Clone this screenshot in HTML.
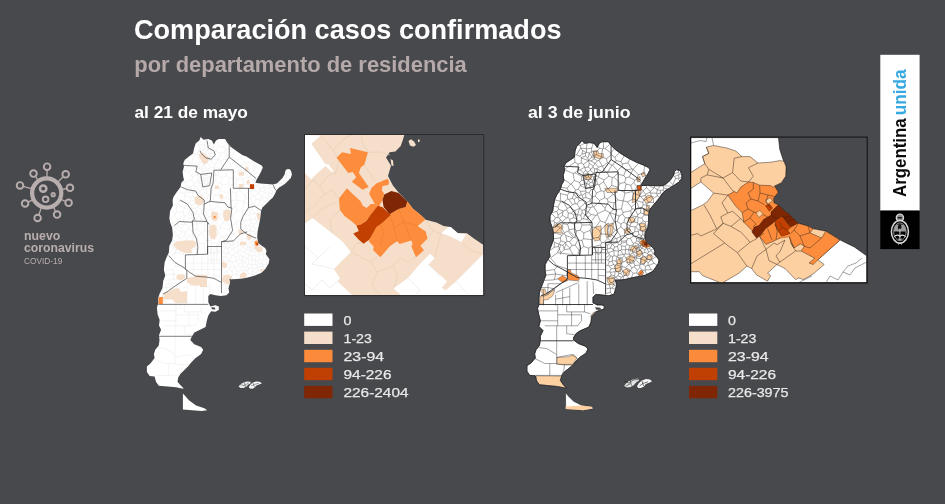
<!DOCTYPE html>
<html lang="es"><head><meta charset="utf-8"><title>Comparación casos confirmados</title>
<style>
html,body{margin:0;padding:0;background:#48494d;}
body{width:945px;height:504px;overflow:hidden;font-family:"Liberation Sans",sans-serif;}
svg{display:block}
text{font-family:"Liberation Sans",sans-serif;}
.lg{font-size:12.9px;fill:#e9e9e9;stroke:#e9e9e9;stroke-width:0.25px}
</style></head><body>
<svg width="945" height="504" viewBox="0 0 945 504">
<rect width="945" height="504" fill="#48494d"/>
<text x="134" y="39.2" font-size="27.5" font-weight="bold" fill="#ffffff" textLength="427.5" lengthAdjust="spacingAndGlyphs">Comparación casos confirmados</text>
<text x="134.3" y="71.8" font-size="21.5" font-weight="bold" fill="#b5a9a9" textLength="332.5" lengthAdjust="spacingAndGlyphs">por departamento de residencia</text>
<text x="134.4" y="118" font-size="16.5" font-weight="bold" fill="#ffffff" textLength="113.5" lengthAdjust="spacingAndGlyphs">al 21 de mayo</text>
<text x="528" y="118" font-size="16.5" font-weight="bold" fill="#ffffff" textLength="102.5" lengthAdjust="spacingAndGlyphs">al 3 de junio</text>
<g id="map1">
<clipPath id="c1"><polygon points="200.7,136.9 203.5,139.7 208.3,139.0 211.8,140.4 213.9,144.6 216.0,140.4 218.8,139.0 225.0,139.0 227.1,142.5 230.6,146.7 236.1,150.8 242.2,155.0 246.4,156.4 251.9,159.9 257.5,163.3 261.7,165.4 262.8,167.5 261.0,171.7 258.9,175.8 256.8,179.3 255.4,182.8 260.3,183.5 267.2,183.9 272.8,184.4 276.9,183.5 279.7,180.7 282.5,177.9 284.6,174.4 285.3,171.0 286.7,169.3 289.4,168.9 291.1,171.0 291.9,174.4 290.8,177.9 288.1,180.7 285.3,183.5 282.5,185.6 279.0,187.6 276.3,190.4 274.9,193.9 272.8,197.4 270.0,200.0 265.8,204.2 262.4,207.6 261.0,211.1 260.3,218.1 258.9,225.0 257.5,231.9 257.2,237.5 258.2,243.0 261.7,245.8 265.1,247.9 266.5,250.7 265.8,254.2 267.5,256.5 269.4,259.2 268.8,263.3 265.3,268.9 261.1,273.0 254.2,275.8 245.8,277.9 237.5,278.9 231.2,279.3 229.2,278.6 229.9,282.8 228.5,288.3 229.2,292.5 226.4,295.3 220.8,296.0 215.3,295.3 210.4,293.9 208.3,296.0 208.3,302.2 210.4,306.4 215.3,305.3 218.8,306.4 218.8,309.9 215.3,311.7 211.1,311.2 208.3,315.4 206.9,320.3 205.6,326.9 200.0,329.7 194.4,332.5 191.7,336.7 190.3,340.0 194.2,344.2 201.1,346.9 203.2,349.7 201.1,353.9 195.6,358.0 191.4,362.2 187.9,366.4 184.4,369.9 180.3,374.0 178.2,377.5 177.5,381.7 180.3,385.1 183.8,388.6 181.7,388.6 176.1,387.2 167.8,386.5 158.8,385.8 156.0,381.7 154.6,376.4 149.7,376.1 146.9,372.0 146.9,366.4 150.4,363.6 154.6,358.0 153.9,353.9 155.3,349.7 158.8,345.6 159.5,340.0 159.0,335.3 161.1,329.7 159.0,325.6 159.7,320.0 157.6,314.4 156.9,307.5 158.3,303.3 158.3,297.8 159.7,293.6 162.5,288.1 163.2,281.1 165.3,275.6 163.9,270.0 164.6,262.5 166.7,256.9 168.8,252.8 169.4,245.8 172.2,240.3 172.9,234.7 172.2,227.8 170.1,222.2 169.4,218.1 170.1,211.1 172.9,205.6 172.6,200.0 173.6,196.7 176.4,192.5 180.6,186.9 181.3,182.8 184.0,180.0 183.3,177.2 182.6,171.7 184.0,166.8 183.3,163.3 184.7,159.9 188.9,156.4 193.0,153.6 194.2,148.0 195.8,143.2 199.3,140.4"/></clipPath>
<polygon points="200.7,136.9 203.5,139.7 208.3,139.0 211.8,140.4 213.9,144.6 216.0,140.4 218.8,139.0 225.0,139.0 227.1,142.5 230.6,146.7 236.1,150.8 242.2,155.0 246.4,156.4 251.9,159.9 257.5,163.3 261.7,165.4 262.8,167.5 261.0,171.7 258.9,175.8 256.8,179.3 255.4,182.8 260.3,183.5 267.2,183.9 272.8,184.4 276.9,183.5 279.7,180.7 282.5,177.9 284.6,174.4 285.3,171.0 286.7,169.3 289.4,168.9 291.1,171.0 291.9,174.4 290.8,177.9 288.1,180.7 285.3,183.5 282.5,185.6 279.0,187.6 276.3,190.4 274.9,193.9 272.8,197.4 270.0,200.0 265.8,204.2 262.4,207.6 261.0,211.1 260.3,218.1 258.9,225.0 257.5,231.9 257.2,237.5 258.2,243.0 261.7,245.8 265.1,247.9 266.5,250.7 265.8,254.2 267.5,256.5 269.4,259.2 268.8,263.3 265.3,268.9 261.1,273.0 254.2,275.8 245.8,277.9 237.5,278.9 231.2,279.3 229.2,278.6 229.9,282.8 228.5,288.3 229.2,292.5 226.4,295.3 220.8,296.0 215.3,295.3 210.4,293.9 208.3,296.0 208.3,302.2 210.4,306.4 215.3,305.3 218.8,306.4 218.8,309.9 215.3,311.7 211.1,311.2 208.3,315.4 206.9,320.3 205.6,326.9 200.0,329.7 194.4,332.5 191.7,336.7 190.3,340.0 194.2,344.2 201.1,346.9 203.2,349.7 201.1,353.9 195.6,358.0 191.4,362.2 187.9,366.4 184.4,369.9 180.3,374.0 178.2,377.5 177.5,381.7 180.3,385.1 183.8,388.6 181.7,388.6 176.1,387.2 167.8,386.5 158.8,385.8 156.0,381.7 154.6,376.4 149.7,376.1 146.9,372.0 146.9,366.4 150.4,363.6 154.6,358.0 153.9,353.9 155.3,349.7 158.8,345.6 159.5,340.0 159.0,335.3 161.1,329.7 159.0,325.6 159.7,320.0 157.6,314.4 156.9,307.5 158.3,303.3 158.3,297.8 159.7,293.6 162.5,288.1 163.2,281.1 165.3,275.6 163.9,270.0 164.6,262.5 166.7,256.9 168.8,252.8 169.4,245.8 172.2,240.3 172.9,234.7 172.2,227.8 170.1,222.2 169.4,218.1 170.1,211.1 172.9,205.6 172.6,200.0 173.6,196.7 176.4,192.5 180.6,186.9 181.3,182.8 184.0,180.0 183.3,177.2 182.6,171.7 184.0,166.8 183.3,163.3 184.7,159.9 188.9,156.4 193.0,153.6 194.2,148.0 195.8,143.2 199.3,140.4" fill="#fff"/>
<polygon points="182.9,393.6 185.0,395.7 189.2,400.6 196.1,405.4 204.4,408.2 207.2,410.3 201.7,411.0 192.0,410.3 182.9,409.6" fill="#fff"/>
<polygon points="238.6,386.4 240.5,384.2 243.5,382.4 247,381.6 250.4,381.8 250.8,383.3 248.4,384.6 246.5,386.6 243.5,388 240.5,388" fill="#ececec"/>
<polygon points="248.8,387.2 250.2,384.8 252.6,382.8 256,381.4 259.5,381.8 262,383.2 259,384.6 256.4,385.4 254.6,387.6 252.4,388.8 250,388.6" fill="#fafafa"/>
<path d="M240,384.5 l4,1.2 l4.5,-2.6 M244,382.3 l1.5,4.5 M251,386 l3.5,-1.6 l4.5,-1.2 M253,383 l1.5,4" stroke="#55565a" stroke-width="0.6" fill="none"/>
<g clip-path="url(#c1)">
<path d="M169.4,217.7 170.9,217.5M170.9,217.5 174.8,215.5M174.8,215.5 175.1,213.3M175.1,213.3 170.4,210.6M169.4,246.3 172.2,246.1M172.2,246.1 173.4,240.7M173.4,240.7 172.3,239.5M175.1,213.3 176.3,212.3M176.3,212.3 176.5,205.2M176.5,205.2 172.8,204.2M174.8,215.5 177.3,219.5M177.3,219.5 183.9,215.0M183.9,215.0 182.7,212.0M182.7,212.0 176.3,212.3M171.1,224.8 172.6,223.3M172.6,223.3 170.9,217.5M172.6,223.3 177.0,221.4M177.0,221.4 177.4,220.2M177.4,220.2 177.3,219.5M168.8,252.5 174.1,248.3M174.1,248.3 173.6,246.9M173.6,246.9 172.2,246.1M173.6,246.9 177.4,244.4M177.4,244.4 177.4,241.8M177.4,241.8 173.4,240.7M172.7,232.3 174.7,232.2M174.7,232.2 176.2,229.5M176.2,229.5 176.1,228.4M176.1,228.4 171.5,225.9M174.9,254.5 175.8,250.2M175.8,250.2 174.1,248.3M177.4,244.4 179.9,247.2M179.9,247.2 182.7,243.0M182.7,243.0 177.5,241.8M177.5,241.8 177.4,241.8M176.1,228.4 177.8,226.2M177.8,226.2 177.9,223.8M177.9,223.8 177.0,221.4M176.5,235.2 174.7,232.2M172.4,238.7 176.5,235.2M176.5,235.2 178.7,235.9M178.7,235.9 182.1,231.6M182.1,231.6 176.2,229.5M176.5,205.2 177.9,204.6M177.9,204.6 179.1,201.6M179.1,201.6 175.1,194.5M175.8,250.2 180.2,248.5M180.2,248.5 179.9,247.2M177.5,241.8 179.5,237.8M179.5,237.8 178.7,235.9M182.1,231.6 182.2,231.6M182.2,231.6 181.6,227.8M181.6,227.8 177.8,226.2M177.2,191.5 184.3,193.4M184.3,193.4 185.4,192.4M185.4,192.4 187.2,187.4M187.2,187.4 184.5,181.8M184.5,181.8 182.9,181.1M182.7,171.4 184.0,171.2M184.0,171.2 190.1,162.4M190.1,162.4 185.2,159.4M179.0,254.5 181.6,249.5M181.6,249.5 181.6,249.4M181.6,249.4 180.2,248.5M182.7,243.0 185.5,242.0M185.5,242.0 181.1,238.2M181.1,238.2 179.5,237.8M184.4,254.5 181.6,249.5M181.6,249.4 186.4,247.5M186.4,247.5 187.4,243.6M187.4,243.6 185.8,242.0M185.8,242.0 185.5,242.0M177.9,223.8 183.7,224.7M183.7,224.7 185.0,223.9M185.0,223.9 184.9,223.5M184.9,223.5 183.4,221.1M183.4,221.1 177.4,220.2M182.7,212.0 184.5,208.1M184.5,208.1 177.9,204.6M183.4,221.1 184.7,215.7M184.7,215.7 183.9,215.0M181.6,227.8 183.7,224.7M184.4,199.9 185.0,195.4M185.0,195.4 184.3,193.4M179.1,201.6 184.4,199.9M184.4,199.9 186.6,203.2M186.6,203.2 188.0,203.0M188.0,203.0 191.1,200.4M191.1,200.4 190.6,197.3M190.6,197.3 185.0,195.4M184.5,208.1 184.7,208.0M184.7,208.0 186.6,203.2M181.1,238.2 184.6,235.6M184.6,235.6 185.2,232.9M185.2,232.9 185.0,232.2M185.0,232.2 182.2,231.6M184.7,215.7 186.8,216.1M186.8,216.1 188.6,214.1M188.6,214.1 189.2,209.7M189.2,209.7 184.7,208.0M185.0,232.2 188.5,228.8M188.5,228.8 188.4,226.6M188.4,226.6 185.0,223.9M226.3,295.3 224.8,292.6M224.8,292.6 221.5,291.6M185.8,242.0 186.3,240.1M186.3,240.1 184.6,235.6M187.4,243.6 190.8,243.2M190.8,243.2 193.9,237.4M193.9,237.4 192.6,236.0M192.6,236.0 189.3,236.1M189.3,236.1 186.3,240.1M184.9,223.5 189.4,218.6M189.4,218.6 186.8,216.1M188.7,254.5 189.2,251.6M189.2,251.6 186.4,247.5M188.4,226.6 191.2,224.4M191.2,224.4 189.8,218.7M189.8,218.7 189.4,218.6M185.2,232.9 189.3,236.1M192.6,236.0 192.5,231.3M192.5,231.3 188.5,228.8M199.3,254.5 195.7,248.2M195.7,248.2 189.2,251.6M195.7,248.2 195.8,247.1M195.8,247.1 190.8,243.2M184.0,171.2 188.6,172.3M188.6,172.3 195.7,167.1M195.7,167.1 195.3,165.4M195.3,165.4 191.8,162.3M191.8,162.3 190.1,162.4M189.2,209.7 190.9,209.6M190.9,209.6 191.4,209.0M191.4,209.0 191.7,205.3M191.7,205.3 188.0,203.0M184.5,181.8 191.8,180.0M191.8,180.0 192.5,176.8M192.5,176.8 188.6,172.3M187.2,187.4 190.6,187.0M190.6,187.0 194.2,184.6M194.2,184.6 194.3,183.4M194.3,183.4 191.8,180.0M190.6,197.3 192.5,196.1M192.5,196.1 192.8,192.5M192.8,192.5 192.7,192.3M192.7,192.3 192.4,192.2M192.4,192.2 185.4,192.4M188.6,214.1 191.2,214.0M191.2,214.0 192.3,211.6M192.3,211.6 190.9,209.6M189.8,218.7 191.5,218.1M191.5,218.1 192.2,215.7M192.2,215.7 191.2,214.0M192.4,192.2 190.6,187.0M192.5,231.3 197.1,228.9M197.1,228.9 197.0,224.0M197.0,224.0 196.9,223.9M196.9,223.9 191.2,224.4M195.3,165.4 199.0,162.6M199.0,162.6 198.3,155.3M198.3,155.3 197.0,154.4M197.0,154.4 194.7,154.5M194.7,154.5 191.8,162.3M194.7,154.5 193.1,153.2M192.3,211.6 196.5,213.2M196.5,213.2 196.9,207.8M196.9,207.8 191.4,209.0M196.9,223.9 196.1,219.7M196.1,219.7 191.5,218.1M192.7,192.3 195.3,186.4M195.3,186.4 194.2,184.6M191.7,205.3 195.6,203.7M195.6,203.7 193.1,200.9M193.1,200.9 191.1,200.4M192.5,176.8 197.5,174.6M197.5,174.6 196.7,168.1M196.7,168.1 195.7,167.1M195.8,247.1 199.6,243.7M199.6,243.7 196.3,237.6M196.3,237.6 193.9,237.4M196.9,207.8 197.5,207.0M197.5,207.0 197.5,205.5M197.5,205.5 195.9,203.7M195.9,203.7 195.6,203.7M192.2,215.7 196.6,213.4M196.6,213.4 196.5,213.2M193.1,200.9 195.1,197.5M195.1,197.5 192.5,196.1M196.1,219.7 198.2,215.8M198.2,215.8 198.3,214.9M198.3,214.9 196.6,213.4M196.3,237.6 201.5,233.3M201.5,233.3 201.5,233.1M201.5,233.1 197.1,228.9M195.9,203.7 197.5,199.9M197.5,199.9 196.8,197.3M196.8,197.3 195.1,197.5M194.3,183.4 197.6,182.1M197.6,182.1 198.1,181.1M198.1,181.1 198.2,175.9M198.2,175.9 197.6,174.7M197.6,174.7 197.5,174.6M196.8,197.3 199.5,193.8M199.5,193.8 199.2,192.9M199.2,192.9 192.8,192.5M205.6,254.5 203.8,243.5M203.8,243.5 199.6,243.7M197.0,224.0 205.1,222.8M205.1,222.8 205.3,222.7M205.3,222.7 205.3,221.9M205.3,221.9 198.2,215.8M195.3,186.4 196.9,187.5M196.9,187.5 200.0,185.5M200.0,185.5 199.4,183.0M199.4,183.0 197.6,182.1M198.3,214.9 201.6,213.4M201.6,213.4 201.7,209.7M201.7,209.7 197.5,207.0M199.2,192.9 199.5,191.4M199.5,191.4 196.9,187.5M197.5,205.5 199.1,204.8M199.1,204.8 201.2,201.0M201.2,201.0 200.7,200.3M200.7,200.3 197.5,199.9M203.8,243.5 207.1,240.6M207.1,240.6 201.5,233.3M200.7,200.3 201.5,195.2M201.5,195.2 201.5,195.2M201.5,195.2 199.5,193.8M197.0,154.4 200.1,149.0M200.1,149.0 198.6,145.3M198.6,145.3 196.1,143.0M198.3,155.3 201.8,156.0M201.8,156.0 203.6,154.9M203.6,154.9 203.0,149.5M203.0,149.5 202.5,149.2M202.5,149.2 200.1,149.0M198.1,181.1 200.7,180.1M200.7,180.1 200.7,177.7M200.7,177.7 198.2,175.9M196.7,168.1 198.4,168.2M198.4,168.2 204.5,164.1M204.5,164.1 204.5,163.8M204.5,163.8 201.3,162.5M201.3,162.5 199.0,162.6M197.6,174.7 200.6,174.0M200.6,174.0 202.2,170.7M202.2,170.7 202.0,170.1M202.0,170.1 200.6,168.8M200.6,168.8 198.4,168.2M199.5,191.4 202.1,189.4M202.1,189.4 202.2,188.2M202.2,188.2 201.3,185.9M201.3,185.9 200.0,185.5M201.5,195.2 206.6,192.9M206.6,192.9 205.9,189.8M205.9,189.8 202.1,189.4M201.7,209.7 204.3,207.7M204.3,207.7 204.3,205.4M204.3,205.4 199.1,204.8M201.5,233.1 203.9,230.9M203.9,230.9 205.1,222.8M201.3,162.5 202.2,157.0M202.2,157.0 201.8,156.0M199.4,183.0 200.4,182.9M200.4,182.9 202.6,181.1M202.6,181.1 200.7,180.1M205.3,221.9 205.6,221.2M205.6,221.2 202.8,213.7M202.8,213.7 201.6,213.4M201.3,185.9 202.2,184.5M202.2,184.5 200.4,182.9M201.2,201.0 207.3,201.6M207.3,201.6 207.5,201.4M207.5,201.4 207.1,199.9M207.1,199.9 201.5,195.2M204.5,163.8 205.3,163.0M205.3,163.0 205.5,162.8M205.5,162.8 204.7,159.4M204.7,159.4 202.2,157.0M200.7,177.7 203.5,178.0M203.5,178.0 204.1,175.2M204.1,175.2 203.2,174.5M203.2,174.5 200.6,174.0M207.1,240.6 210.3,240.4M210.3,240.4 210.8,239.4M210.8,239.4 209.7,231.3M209.7,231.3 203.9,230.9M202.6,181.1 204.1,180.9M204.1,180.9 204.4,180.1M204.4,180.1 204.4,180.0M204.4,180.0 203.5,178.0M200.6,168.8 205.0,166.4M205.0,166.4 204.5,164.1M210.1,254.5 211.7,242.2M211.7,242.2 210.3,240.4M221.5,255.8 221.7,255.7M221.7,255.7 222.7,252.4M222.7,252.4 219.8,250.7M219.8,250.7 217.2,250.6M217.2,250.6 213.0,254.5M202.8,213.7 206.1,212.9M206.1,212.9 207.5,210.6M207.5,210.6 204.3,207.7M209.7,231.3 212.1,228.6M212.1,228.6 210.4,224.5M210.4,224.5 205.3,222.7M204.3,205.4 207.3,201.6M210.4,224.5 214.9,220.9M214.9,220.9 215.0,220.0M215.0,220.0 211.5,216.3M211.5,216.3 208.6,217.0M208.6,217.0 205.6,221.2M202.2,184.5 204.9,183.6M204.9,183.6 204.1,180.9M202.2,188.2 205.6,184.3M205.6,184.3 204.9,183.6M204.4,139.6 205.5,142.9M205.5,142.9 210.7,143.1M210.7,143.1 212.4,141.7M198.6,145.3 204.9,144.0M204.9,144.0 205.1,143.9M205.1,143.9 205.5,142.9M203.2,174.5 203.9,171.7M203.9,171.7 202.2,170.7M205.6,184.3 206.6,184.7M206.6,184.7 206.6,184.7M206.6,184.7 207.4,184.0M207.4,184.0 208.4,181.0M208.4,181.0 204.4,180.1M202.0,170.1 206.2,168.5M206.2,168.5 205.0,166.4M202.5,149.2 204.9,144.0M208.6,217.0 206.1,212.9M207.5,210.6 211.3,209.4M211.3,209.4 208.9,201.9M208.9,201.9 207.5,201.4M206.2,168.5 207.7,169.8M207.7,169.8 210.5,167.7M210.5,167.7 209.2,164.6M209.2,164.6 205.3,163.0M203.0,149.5 204.1,149.5M204.1,149.5 206.5,146.7M206.5,146.7 205.1,143.9M204.1,175.2 206.0,174.8M206.0,174.8 208.1,171.5M208.1,171.5 207.7,169.9M207.7,169.9 203.9,171.7M204.7,159.4 207.6,157.3M207.6,157.3 204.8,154.7M204.8,154.7 203.6,154.9M204.8,154.7 205.3,154.3M205.3,154.3 206.1,150.7M206.1,150.7 204.1,149.5M207.1,199.9 208.6,194.3M208.6,194.3 206.6,192.9M207.7,169.9 207.7,169.8M205.5,162.8 209.3,160.1M209.3,160.1 208.0,157.4M208.0,157.4 207.6,157.3M204.4,180.0 206.7,178.5M206.7,178.5 206.1,174.9M206.1,174.9 206.0,174.8M205.9,189.8 206.6,189.1M206.6,189.1 206.6,184.7M206.5,146.7 207.2,147.2M207.2,147.2 210.4,146.7M210.4,146.7 210.7,143.1M208.6,194.3 211.9,192.9M211.9,192.9 212.1,189.3M212.1,189.3 206.6,189.1M206.1,150.7 207.6,150.3M207.6,150.3 207.2,147.2M208.4,181.0 210.2,179.6M210.2,179.6 210.0,178.4M210.0,178.4 206.7,178.5M210.0,178.4 210.3,177.5M210.3,177.5 206.1,174.9M207.6,150.3 207.6,150.3M205.3,154.3 209.4,153.2M209.4,153.2 207.6,150.3M207.6,150.3 210.6,148.9M210.6,148.9 211.2,148.0M211.2,148.0 210.4,146.7M208.1,171.5 211.4,173.9M211.4,173.9 213.7,168.7M213.7,168.7 213.7,167.4M213.7,167.4 210.5,167.7M208.0,157.4 210.7,154.5M210.7,154.5 210.7,153.8M210.7,153.8 209.4,153.2M208.9,201.9 212.3,200.8M212.3,200.8 214.8,195.6M214.8,195.6 211.9,192.9M210.3,177.5 212.3,175.2M212.3,175.2 211.4,173.9M212.1,189.3 212.8,188.1M212.8,188.1 212.7,187.9M212.7,187.9 206.6,184.7M211.5,216.3 213.3,211.1M213.3,211.1 212.9,210.2M212.9,210.2 211.3,209.4M210.8,239.4 218.9,233.8M218.9,233.8 218.6,230.5M218.6,230.5 212.1,228.6M210.2,179.6 213.2,182.8M213.2,182.8 213.3,182.9M213.3,182.9 215.8,181.7M215.8,181.7 215.9,175.4M215.9,175.4 212.3,175.2M210.7,153.8 211.0,153.6M211.0,153.6 210.6,148.9M209.2,164.6 211.3,162.2M211.3,162.2 210.8,160.4M210.8,160.4 209.3,160.1M217.2,250.6 216.5,244.2M216.5,244.2 211.7,242.2M210.8,160.4 211.7,159.7M211.7,159.7 212.1,156.8M212.1,156.8 210.7,154.5M211.0,153.6 214.8,152.4M214.8,152.4 216.0,151.0M216.0,151.0 215.9,150.1M215.9,150.1 213.9,148.6M213.9,148.6 211.2,148.0M207.4,184.0 213.2,182.8M213.7,167.4 214.5,166.8M214.5,166.8 214.5,165.3M214.5,165.3 211.3,162.2M212.9,210.2 218.1,205.6M218.1,205.6 218.3,204.1M218.3,204.1 212.3,200.8M212.7,187.9 213.3,182.9M214.8,195.6 217.5,195.2M217.5,195.2 220.7,189.8M220.7,189.8 220.5,189.1M220.5,189.1 212.8,188.1M213.9,148.6 214.2,144.0M212.1,156.8 215.4,156.5M215.4,156.5 214.8,152.4M215.9,175.4 216.1,175.3M216.1,175.3 213.7,168.7M215.0,220.0 219.8,216.6M219.8,216.6 220.3,215.0M220.3,215.0 213.3,211.1M214.5,165.3 218.0,159.8M218.0,159.8 211.7,159.7M220.5,189.1 221.6,184.9M221.6,184.9 220.8,183.5M220.8,183.5 215.8,181.7M215.9,150.1 218.8,146.3M218.8,146.3 216.4,140.2M218.6,230.5 220.3,228.0M220.3,228.0 220.4,226.8M220.4,226.8 214.9,220.9M216.5,244.2 218.0,243.8M218.0,243.8 218.4,243.4M218.4,243.4 221.6,236.3M221.6,236.3 218.9,233.8M216.1,175.3 217.5,174.8M217.5,174.8 220.4,169.1M220.4,169.1 214.5,166.8M220.3,215.0 221.4,214.2M221.4,214.2 222.5,211.1M222.5,211.1 218.1,205.6M215.4,156.5 218.2,159.7M218.2,159.7 218.9,159.7M218.9,159.7 220.5,153.4M220.5,153.4 216.0,151.0M218.3,204.1 222.0,200.9M222.0,200.9 222.0,200.8M222.0,200.8 217.5,195.2M218.2,159.7 218.0,159.8M220.4,169.1 222.9,168.2M222.9,168.2 221.2,161.0M221.2,161.0 218.9,159.7M220.8,183.5 222.3,177.8M222.3,177.8 217.5,174.8M221.5,270.3 221.6,270.3M221.6,270.3 224.3,268.3M224.3,268.3 224.3,268.0M224.3,268.0 221.8,264.6M221.8,264.6 221.5,264.5M221.6,236.3 223.6,236.9M223.6,236.9 230.4,233.3M230.4,233.3 229.1,229.8M229.1,229.8 220.3,228.0M220.4,226.8 223.3,222.7M223.3,222.7 219.8,216.6M218.8,146.3 224.9,147.6M224.9,147.6 226.7,141.8M220.7,189.8 227.2,193.7M227.2,193.7 230.5,191.5M230.5,191.5 229.9,185.1M229.9,185.1 228.7,183.9M228.7,183.9 221.6,184.9M222.5,211.1 228.1,207.9M228.1,207.9 228.2,207.7M228.2,207.7 222.0,200.9M222.0,200.8 226.5,197.1M226.5,197.1 227.2,193.7M221.2,161.0 226.0,158.9M226.0,158.9 226.9,155.5M226.9,155.5 225.0,151.5M225.0,151.5 220.5,153.4M225.0,151.5 225.6,149.7M225.6,149.7 224.9,147.6M219.8,250.7 221.9,246.7M221.9,246.7 218.0,243.8M222.3,177.8 226.4,175.8M226.4,175.8 226.8,169.5M226.8,169.5 222.9,168.2M228.7,183.9 229.1,178.7M229.1,178.7 226.4,175.8M223.3,222.7 226.1,222.1M226.1,222.1 228.9,217.3M228.9,217.3 221.4,214.2M222.7,252.4 222.7,252.4M222.7,252.4 225.6,247.5M225.6,247.5 224.7,246.3M224.7,246.3 221.9,246.7M224.7,246.3 225.0,244.0M225.0,244.0 224.3,242.8M224.3,242.8 218.4,243.4M224.3,242.8 224.0,237.7M224.0,237.7 223.6,236.9M225.0,244.0 228.8,242.8M228.8,242.8 229.3,241.3M229.3,241.3 224.0,237.7M226.8,169.5 227.8,169.1M227.8,169.1 231.1,163.9M231.1,163.9 226.0,158.9M221.5,279.0 223.8,278.6M223.8,278.6 224.5,276.6M224.5,276.6 222.6,274.9M222.6,274.9 221.5,274.8M224.8,292.6 226.2,290.6M226.2,290.6 226.1,286.2M226.1,286.2 223.9,284.5M223.9,284.5 221.5,284.9M228.8,290.0 226.2,290.6M222.6,274.9 224.1,272.3M224.1,272.3 221.6,270.3M223.9,284.5 225.7,281.5M225.7,281.5 223.8,278.6M221.5,261.3 223.5,260.5M223.5,260.5 223.9,257.2M223.9,257.2 221.7,255.7M224.1,272.3 226.8,272.0M226.8,272.0 226.8,272.0M226.8,272.0 224.3,268.3M224.5,276.6 228.1,275.3M228.1,275.3 226.8,272.0M221.8,264.6 226.6,264.0M226.6,264.0 228.2,261.4M228.2,261.4 223.5,260.5M223.9,257.2 226.1,256.8M226.1,256.8 227.1,253.7M227.1,253.7 222.7,252.4M228.2,207.7 228.9,207.2M228.9,207.2 231.1,200.8M231.1,200.8 226.5,197.1M229.1,229.8 230.2,226.2M230.2,226.2 226.1,222.1M231.1,163.9 233.4,162.9M233.4,162.9 234.4,161.1M234.4,161.1 231.8,155.7M231.8,155.7 226.9,155.5M231.8,155.7 235.4,150.3M234.5,149.6 225.6,149.7M229.1,285.9 226.1,286.2M225.7,281.5 226.1,281.4M226.1,281.4 230.2,276.6M230.2,276.6 228.1,275.3M225.6,247.5 227.6,248.2M227.6,248.2 229.2,247.4M229.2,247.4 230.4,245.2M230.4,245.2 228.8,242.8M226.8,272.0 229.1,269.5M229.1,269.5 229.1,268.3M229.1,268.3 226.8,266.7M226.8,266.7 224.3,268.0M226.8,266.7 226.6,264.0M228.9,217.3 231.6,216.1M231.6,216.1 231.8,215.4M231.8,215.4 228.1,207.9M227.1,253.7 228.7,253.0M228.7,253.0 227.6,248.2M228.2,261.4 228.9,261.0M228.9,261.0 226.1,256.8M230.2,276.6 231.0,276.6M231.0,276.6 233.0,274.7M233.0,274.7 232.0,271.2M232.0,271.2 229.1,269.5M229.1,268.3 230.6,266.8M230.6,266.8 230.1,261.3M230.1,261.3 229.7,260.9M229.7,260.9 228.9,261.0M229.9,185.1 235.3,183.9M235.3,183.9 237.1,179.4M237.1,179.4 233.9,177.5M233.9,177.5 229.1,178.7M233.9,177.5 234.1,172.3M234.1,172.3 227.8,169.1M229.3,241.3 231.5,239.8M231.5,239.8 232.1,234.2M232.1,234.2 230.4,233.3M229.7,260.9 232.0,255.7M232.0,255.7 228.9,253.0M228.9,253.0 228.7,253.0M229.9,282.9 226.1,281.4M230.2,226.2 236.3,222.8M236.3,222.8 236.6,221.7M236.6,221.7 231.6,216.1M232.1,234.2 233.5,234.2M233.5,234.2 239.0,229.5M239.0,229.5 236.3,222.8M231.8,215.4 238.1,210.5M238.1,210.5 235.5,206.9M235.5,206.9 228.9,207.2M231.1,200.8 236.9,199.7M236.9,199.7 236.0,192.9M236.0,192.9 230.5,191.5M230.4,245.2 232.8,244.9M232.8,244.9 233.5,244.2M233.5,244.2 231.8,240.2M231.8,240.2 231.5,239.8M236.5,279.0 237.4,274.7M237.4,274.7 236.9,274.3M236.9,274.3 233.0,274.7M231.0,276.6 232.0,279.2M228.9,253.0 232.7,249.5M232.7,249.5 229.2,247.4M235.5,206.9 237.4,200.2M237.4,200.2 236.9,199.7M230.6,266.8 235.1,267.3M235.1,267.3 232.2,261.9M232.2,261.9 230.1,261.3M236.9,274.3 237.6,271.6M237.6,271.6 235.7,267.4M235.7,267.4 235.2,267.4M235.2,267.4 232.0,271.2M241.2,278.5 240.1,276.0M240.1,276.0 237.4,274.7M235.2,267.4 235.1,267.3M232.2,261.9 235.7,261.1M235.7,261.1 235.6,257.1M235.6,257.1 233.8,255.3M233.8,255.3 232.0,255.7M234.1,172.3 238.9,170.4M238.9,170.4 238.5,167.5M238.5,167.5 233.4,162.9M234.4,161.1 241.2,157.3M241.2,157.3 241.5,154.5M232.7,249.5 233.5,249.5M233.5,249.5 233.8,248.5M233.8,248.5 232.8,244.9M236.6,221.7 241.4,219.5M241.4,219.5 242.6,213.4M242.6,213.4 242.1,211.2M242.1,211.2 238.1,210.5M233.8,255.3 235.8,252.4M235.8,252.4 233.5,249.5M235.7,267.4 237.8,265.7M237.8,265.7 238.1,264.0M238.1,264.0 236.9,261.7M236.9,261.7 235.7,261.1M233.5,244.2 238.1,243.5M238.1,243.5 238.5,241.5M238.5,241.5 231.8,240.2M236.0,192.9 239.4,190.2M239.4,190.2 239.7,189.4M239.7,189.4 235.3,183.9M238.5,241.5 239.4,239.6M239.4,239.6 233.5,234.2M237.4,200.2 243.7,201.6M243.7,201.6 245.3,199.0M245.3,199.0 244.9,195.5M244.9,195.5 239.4,190.2M233.8,248.5 237.8,246.4M237.8,246.4 238.5,244.5M238.5,244.5 238.1,243.5M242.1,211.2 242.2,211.1M242.2,211.1 243.8,201.9M243.8,201.9 243.7,201.6M235.8,252.4 237.0,252.1M237.0,252.1 238.5,250.7M238.5,250.7 237.8,246.4M237.1,179.4 241.8,178.4M241.8,178.4 241.1,172.2M241.1,172.2 238.9,170.4M237.6,271.6 241.6,270.0M241.6,270.0 241.5,267.5M241.5,267.5 237.8,265.7M238.5,244.5 242.3,246.4M242.3,246.4 242.7,246.4M242.7,246.4 244.6,245.0M244.6,245.0 241.7,239.0M241.7,239.0 241.3,238.9M241.3,238.9 239.4,239.6M241.3,238.9 242.6,231.3M242.6,231.3 242.2,230.5M242.2,230.5 239.0,229.5M236.9,261.7 239.3,259.3M239.3,259.3 239.1,257.3M239.1,257.3 235.6,257.1M239.1,257.3 240.3,255.9M240.3,255.9 237.0,252.1M241.2,157.3 244.5,162.2M244.5,162.2 246.0,162.9M246.0,162.9 253.2,161.3M253.2,161.3 253.5,160.9M238.5,167.5 244.5,162.2M239.7,189.4 243.1,186.8M243.1,186.8 244.0,184.7M244.0,184.7 242.6,179.0M242.6,179.0 241.8,178.4M241.1,172.2 246.3,169.8M246.3,169.8 246.0,162.9M242.2,230.5 245.2,227.2M245.2,227.2 245.6,226.0M245.6,226.0 243.9,221.0M243.9,221.0 241.4,219.5M238.1,264.0 242.9,262.1M242.9,262.1 242.3,261.0M242.3,261.0 239.3,259.3M240.1,276.0 243.2,273.6M243.2,273.6 243.2,271.2M243.2,271.2 241.6,270.0M238.5,250.7 240.6,250.6M240.6,250.6 242.3,246.4M253.8,275.9 253.4,274.8M253.4,274.8 252.9,274.2M252.9,274.2 248.7,273.4M248.7,273.4 246.2,275.4M246.2,275.4 246.0,277.8M246.2,275.4 243.2,273.6M240.3,255.9 241.1,255.7M241.1,255.7 242.4,251.8M242.4,251.8 240.6,250.6M243.9,221.0 250.4,219.4M250.4,219.4 249.3,215.7M249.3,215.7 242.6,213.4M244.9,195.5 248.7,191.4M248.7,191.4 243.1,186.8M241.5,267.5 242.4,266.9M242.4,266.9 243.2,262.3M243.2,262.3 242.9,262.1M242.3,261.0 243.0,256.8M243.0,256.8 243.0,256.7M243.0,256.7 241.1,255.7M243.2,271.2 245.5,270.3M245.5,270.3 245.3,267.1M245.3,267.1 242.4,266.9M243.0,256.7 246.2,253.7M246.2,253.7 244.6,251.5M244.6,251.5 242.4,251.8M249.3,215.7 250.1,214.4M250.1,214.4 249.5,210.3M249.5,210.3 247.6,210.0M247.6,210.0 242.2,211.1M244.6,251.5 245.2,250.0M245.2,250.0 242.7,246.4M242.6,179.0 250.6,176.5M250.6,176.5 251.3,172.5M251.3,172.5 246.3,169.8M243.2,262.3 244.5,262.3M244.5,262.3 246.5,258.6M246.5,258.6 243.0,256.8M245.2,250.0 246.5,249.3M246.5,249.3 247.8,246.2M247.8,246.2 247.7,245.6M247.7,245.6 246.0,244.8M246.0,244.8 244.6,245.0M243.8,201.9 248.5,204.2M248.5,204.2 253.0,204.8M253.0,204.8 253.5,204.6M253.5,204.6 250.4,197.9M250.4,197.9 245.3,199.0M246.0,244.8 246.8,239.0M246.8,239.0 241.7,239.0M246.8,239.0 247.6,238.7M247.6,238.7 247.8,238.4M247.8,238.4 248.3,237.2M248.3,237.2 244.6,232.2M244.6,232.2 242.6,231.3M251.3,172.5 253.6,170.8M253.6,170.8 254.7,168.0M254.7,168.0 253.2,161.3M246.5,258.6 247.7,258.1M247.7,258.1 249.1,254.8M249.1,254.8 246.2,253.7M245.5,270.3 247.4,270.8M247.4,270.8 248.7,268.9M248.7,268.9 247.5,265.1M247.5,265.1 245.3,267.1M248.7,273.4 247.4,270.8M249.1,254.8 249.1,254.8M249.1,254.8 250.3,251.4M250.3,251.4 249.7,250.8M249.7,250.8 246.5,249.3M247.5,265.1 247.7,264.5M247.7,264.5 244.5,262.3M244.6,232.2 249.9,231.4M249.9,231.4 250.1,231.1M250.1,231.1 250.0,230.2M250.0,230.2 245.2,227.2M247.7,245.6 250.0,243.6M250.0,243.6 250.0,243.2M250.0,243.2 250.0,243.1M250.0,243.1 247.6,238.7M247.6,210.0 248.5,204.2M247.7,264.5 248.2,264.3M248.2,264.3 249.1,259.9M249.1,259.9 247.7,258.1M252.9,274.2 252.8,272.6M252.8,272.6 250.6,268.9M250.6,268.9 248.7,268.9M248.7,191.4 250.5,191.3M250.5,191.3 251.5,189.9M251.5,189.9 250.4,185.7M250.4,185.7 249.7,184.5M249.7,184.5 244.0,184.7M249.7,184.5 253.0,179.9M253.0,179.9 250.6,176.5M250.4,197.9 252.6,195.7M252.6,195.7 250.5,191.3M250.6,268.9 252.0,267.0M252.0,267.0 251.6,264.7M251.6,264.7 251.3,264.5M251.3,264.5 248.2,264.3M250.0,230.2 251.0,227.6M251.0,227.6 249.0,225.4M249.0,225.4 245.6,226.0M249.0,225.4 250.9,222.4M250.9,222.4 250.4,219.5M250.4,219.5 250.4,219.4M286.2,169.8 286.7,173.7M286.7,173.7 291.2,171.6M254.7,168.0 262.6,167.9M248.3,237.2 250.2,235.9M250.2,235.9 249.9,231.4M249.7,250.8 249.1,247.0M249.1,247.0 247.8,246.2M249.1,259.9 252.3,260.0M252.3,260.0 251.6,255.8M251.6,255.8 249.1,254.8M249.1,247.0 249.3,247.0M249.3,247.0 252.3,246.0M252.3,246.0 252.5,245.2M252.5,245.2 250.0,243.6M250.0,243.1 251.9,240.3M251.9,240.3 247.8,238.4M250.2,235.9 252.2,236.0M252.2,236.0 255.2,233.4M255.2,233.4 254.6,231.4M254.6,231.4 250.1,231.1M249.5,210.3 251.4,209.3M251.4,209.3 253.0,204.8M250.4,219.5 254.9,218.4M254.9,218.4 256.4,215.9M256.4,215.9 256.9,213.6M256.9,213.6 255.3,213.1M255.3,213.1 250.1,214.4M253.0,179.9 256.2,180.8M259.6,174.5 253.6,170.8M250.3,251.4 250.9,251.1M250.9,251.1 250.7,248.0M250.7,248.0 249.3,247.0M252.6,195.7 254.5,196.1M254.5,196.1 258.5,193.2M258.5,193.2 258.5,192.8M258.5,192.8 253.5,189.5M253.5,189.5 251.5,189.9M251.0,227.6 253.6,226.9M253.6,226.9 253.5,224.4M253.5,224.4 250.9,222.4M260.1,273.4 258.6,270.6M258.6,270.6 258.3,270.4M258.3,270.4 253.4,274.8M252.8,272.6 254.2,268.7M254.2,268.7 252.0,267.0M258.3,270.4 257.2,267.5M257.2,267.5 254.2,268.7M250.4,185.7 256.6,185.8M256.6,185.8 257.5,185.2M257.5,185.2 257.8,183.1M251.3,264.5 252.6,260.3M252.6,260.3 252.3,260.0M255.3,213.1 251.4,209.3M250.9,251.1 251.6,250.9M251.6,250.9 251.9,250.5M251.9,250.5 252.6,247.8M252.6,247.8 252.4,247.6M252.4,247.6 250.7,248.0M251.6,255.8 254.7,255.2M254.7,255.2 254.7,252.5M254.7,252.5 251.6,250.9M251.9,240.3 252.3,240.3M252.3,240.3 253.1,239.1M253.1,239.1 253.4,238.5M253.4,238.5 253.2,237.4M253.2,237.4 252.2,236.0M253.5,189.5 256.6,185.8M252.6,260.3 254.9,260.1M254.9,260.1 256.1,256.0M256.1,256.0 254.7,255.2M252.4,247.6 252.3,246.0M254.6,231.4 255.7,228.6M255.7,228.6 253.6,226.9M252.5,245.2 252.8,245.1M252.8,245.1 253.5,243.9M253.5,243.9 252.7,242.1M252.7,242.1 250.0,243.2M252.7,242.1 252.9,241.3M252.9,241.3 252.3,240.3M251.6,264.7 256.0,264.5M256.0,264.5 254.9,260.2M254.9,260.2 254.9,260.1M256.9,213.6 258.1,212.7M258.1,212.7 256.5,205.8M256.5,205.8 253.7,204.6M253.7,204.6 253.5,204.6M253.7,204.6 256.1,199.4M256.1,199.4 254.5,196.1M252.6,247.8 254.9,248.2M254.9,248.2 255.4,247.9M255.4,247.9 255.4,247.9M255.4,247.9 254.9,246.2M254.9,246.2 252.8,245.1M253.5,243.9 254.8,243.4M254.8,243.4 255.0,242.5M255.0,242.5 254.7,241.3M254.7,241.3 252.9,241.3M253.5,224.4 256.6,222.7M256.6,222.7 256.7,221.6M256.7,221.6 254.9,218.4M254.7,241.3 254.9,241.1M254.9,241.1 253.1,239.1M253.4,238.5 255.3,239.6M255.3,239.6 255.7,239.0M255.7,239.0 255.7,237.5M255.7,237.5 253.2,237.4M251.9,250.5 254.3,249.5M254.3,249.5 254.9,248.2M258.5,192.8 259.6,191.0M259.6,191.0 259.6,189.0M259.6,189.0 257.5,185.2M254.7,252.5 255.3,251.8M255.3,251.8 254.3,249.5M254.9,241.1 255.5,240.5M255.5,240.5 255.3,239.6M254.9,246.2 255.8,245.1M255.8,245.1 255.8,244.5M255.8,244.5 255.3,243.8M255.3,243.8 254.8,243.4M256.1,256.0 258.2,255.9M258.2,255.9 259.5,254.8M259.5,254.8 257.6,250.8M257.6,250.8 257.5,250.7M257.5,250.7 255.3,251.8M255.7,228.6 258.3,227.8M258.8,225.7 256.6,222.7M255.7,237.5 257.3,236.4M257.4,234.5 255.2,233.4M257.5,250.7 255.4,247.9M257.2,267.5 257.2,267.3M257.2,267.3 256.8,264.9M256.8,264.9 256.0,264.5M255.0,242.5 257.7,242.1M257.7,242.1 258.0,241.8M257.8,241.0 257.8,241.0M257.8,241.0 255.5,240.5M254.9,260.2 258.2,260.4M258.2,260.4 259.4,259.4M259.4,259.4 258.2,255.9M256.7,221.6 259.7,220.9M260.2,218.8 256.4,215.9M256.1,199.4 259.7,199.7M259.7,199.7 261.4,198.3M261.4,198.3 261.8,197.1M261.8,197.1 261.7,196.5M261.7,196.5 258.5,193.2M255.4,247.9 257.0,247.2M257.0,247.2 258.0,246.2M258.0,246.2 257.9,246.1M257.9,246.1 255.8,245.1M255.7,239.0 256.7,238.9M256.7,238.9 257.3,238.2M255.3,243.8 257.5,242.6M257.5,242.6 257.7,242.1M256.8,264.9 258.4,263.8M258.4,263.8 258.2,260.4M257.2,267.3 262.9,266.7M262.9,266.7 263.2,265.1M263.2,265.1 262.1,263.4M262.1,263.4 258.4,263.8M257.8,241.0 256.7,238.9M256.5,205.8 259.9,204.6M259.9,204.6 259.7,199.7M259.6,189.0 264.0,187.3M264.0,187.3 264.0,186.5M264.0,186.5 263.6,183.7M257.6,250.8 258.3,250.2M258.3,250.2 258.5,249.4M258.5,249.4 257.0,247.2M257.9,246.1 257.8,244.8M257.8,244.8 257.3,244.1M257.3,244.1 255.8,244.5M257.3,244.1 257.5,242.6M257.8,244.8 259.2,243.8M260.9,212.6 258.1,212.7M261.7,196.5 265.6,192.8M265.6,192.8 264.8,191.4M264.8,191.4 259.6,191.0M259.0,248.2 258.3,246.4M258.3,246.4 258.2,246.3M258.2,246.3 258.0,246.2M258.5,249.4 259.0,248.2M259.0,248.2 260.4,247.9M260.4,247.9 260.0,246.8M260.0,246.8 258.3,246.4M262.1,263.4 262.6,260.5M262.6,260.5 259.4,259.4M258.3,250.2 262.0,250.2M262.0,250.2 262.3,248.9M262.3,248.9 260.4,247.9M258.2,246.3 260.3,244.7M263.4,206.6 262.5,205.3M262.5,205.3 259.9,204.6M264.2,270.0 263.6,269.4M263.6,269.4 258.6,270.6M260.0,246.8 261.3,245.5M262.6,260.5 263.7,259.5M263.7,259.5 263.1,254.2M263.1,254.2 259.5,254.8M284.6,174.4 285.9,174.9M285.9,174.9 286.7,173.7M264.0,186.5 270.0,185.4M270.0,185.4 269.9,184.1M263.8,247.1 262.3,248.9M262.0,250.2 263.2,254.1M263.2,254.1 265.9,253.5M262.5,205.3 264.3,201.9M264.3,201.9 261.4,198.3M263.1,254.2 263.2,254.1M263.6,269.4 262.9,266.7M263.2,265.1 266.7,264.4M266.7,264.4 266.6,260.7M266.6,260.7 265.8,259.9M265.8,259.9 263.7,259.5M268.6,201.4 268.0,200.8M268.0,200.8 264.3,201.9M273.0,197.0 268.3,196.5M268.3,196.5 267.6,198.1M267.6,198.1 268.0,200.8M267.7,264.9 266.7,264.4M264.8,191.4 265.1,188.6M265.1,188.6 264.0,187.3M267.6,198.1 261.8,197.1M265.8,259.9 268.1,257.4M265.6,192.8 267.9,193.6M267.9,193.6 268.3,193.3M268.3,193.3 270.2,189.3M270.2,189.3 270.1,187.5M270.1,187.5 265.1,188.6M268.3,196.5 267.9,193.6M270.1,187.5 270.2,187.3M270.2,187.3 270.0,185.4M269.1,261.0 266.6,260.7M270.2,189.3 272.7,191.2M272.7,191.2 275.4,191.0M275.4,191.0 273.6,187.6M273.6,187.6 270.2,187.3M273.6,187.6 274.9,186.8M274.9,186.8 275.7,183.8M274.0,195.4 272.3,193.8M272.3,193.8 268.3,193.3M272.3,193.8 272.7,191.2M284.8,183.9 281.0,183.2M281.0,183.2 278.8,184.2M278.8,184.2 279.5,187.3M276.0,191.3 275.4,191.0M278.2,188.4 274.9,186.8M277.3,183.1 278.8,184.2M281.0,183.2 281.0,179.4M282.1,178.3 286.5,177.9M286.5,177.9 286.2,175.6M286.2,175.6 285.9,174.9M285.9,182.9 281.2,179.2M288.2,180.6 286.5,177.9M291.7,174.9 286.2,175.6M158.2,310.9 175.9,310.9M175.9,304.3 175.9,325.8M184.3,304.3 184.3,311.9 201.1,311.9 201.1,304.3M201.1,311.9 206.7,313.8M175.9,314.8 193.6,314.8M188.9,311.9 188.9,325.8M193.6,314.8 198.3,314.8 198.3,320.8 194.5,325.8M159.1,320.8 175.9,320.8M163.8,325.8 194.5,325.8M175.0,325.8 175.0,336.7M184.3,325.8 184.3,333.7 191.7,334.7M175.0,336.7 175.0,364.4M158.2,347.6 165.6,348.6 175.0,354.5M154.4,358.5 163.8,363.5 175.0,363.5M175.0,357.5 188.9,354.5 194.5,358.5M188.9,364.4 175.0,364.4M168.4,363.5 168.4,375.4M182.4,364.4 181.5,370.4 179.6,375.4M155.4,375.4 180.5,375.4M193.3,256.0 193.3,275.9M201.8,256.0 201.8,277.9M207.8,255.3 207.8,278.8M213.9,247.6 213.9,280.1M185.4,263.1 220.6,263.1M185.4,269.5 220.6,269.5M207.8,259.8 220.6,259.8M207.8,252.7 220.6,252.7M211.5,247.6 211.5,263.1M216.9,247.6 216.9,263.1M213.9,275.3 220.6,275.9M184.8,279.8 178.7,283.7 172.7,288.8 166.6,294.6 161.8,296.6M173.9,292.7 184.8,287.5 194.5,283.0 196.3,281.1M187.2,287.5 187.2,305.6M195.7,283.7 195.7,305.6M203.6,281.1 203.6,305.6M209.0,281.7 209.6,294.0M164.2,270.8 172.7,269.5 175.7,266.3M163.6,275.3 173.9,274.0 184.8,275.9M161.8,280.5 172.7,279.8 175.7,278.8M172.7,269.5 173.9,274.0 172.7,279.8M166.6,283.7 172.7,283.7 178.7,283.7M160.0,287.5 166.6,287.5 172.7,288.8M166.6,283.7 166.6,294.6M162.4,289.5 162.4,305.6M173.9,294.6 173.9,305.6M180.6,289.5 180.6,305.6M173.9,299.2 187.2,296.6M169.1,257.9 175.7,252.7 184.8,254.0M175.7,252.7 178.7,245.0M184.8,254.0 196.9,255.3 196.9,245.0M169.1,257.9 175.1,265.6 184.8,268.9" fill="none" stroke="#e9e9e9" stroke-width="0.5"/>
<polygon points="199,154 203,152.5 206,155 209.5,158 208,162 204.5,164.7 201.5,161 199.5,158" fill="#f5dfcb"/>
<polygon points="215,185.6 219,185.6 219,189 215,189" fill="#f5dfcb"/>
<polygon points="219.5,194 223,194.5 223.5,198.5 220,199" fill="#f5dfcb"/>
<polygon points="194.5,198 198,195.5 202,196.5 204,200 202.5,204.5 198.5,205.5 195,203" fill="#f5dfcb"/>
<polygon points="211,212.3 214,211.8 218,212.5 218,220 214,221 211.5,220" fill="#f5dfcb"/>
<polygon points="223.5,211 226,209.5 231,210 230.5,216 229,221 224.5,221 223,216" fill="#f5dfcb"/>
<polygon points="209.5,226 214,224.3 216.7,226.5 216.7,236 214.5,239.6 210.5,238.5 209,233" fill="#f5dfcb"/>
<polygon points="173,244 177,241.5 185,240.5 193,240.3 197,243 195,247 191,249 192.5,253 186,253 181,251.5 176,248.5" fill="#f5dfcb"/>
<polygon points="238.6,172 244,172 244,175.8 238.6,175.8" fill="#f5dfcb"/>
<polygon points="239,184 243.3,184 243.3,188 239,188" fill="#f5dfcb"/>
<polygon points="256.7,213 260,213 260,220 257.5,220" fill="#f5dfcb"/>
<polygon points="240,241.7 246,241.7 246,245 240,245" fill="#f5dfcb"/>
<polygon points="238.6,230 242.8,230 242.8,234 238.6,234" fill="#f5dfcb"/>
<polygon points="247,234 250.5,234 252,238 249,240.5 246.5,238" fill="#f5dfcb"/>
<polygon points="255,241 258,246.5 262,247 262.5,251.5 259,252.5 256,250.5 254,247" fill="#f5dfcb"/>
<polygon points="222,261 227.5,264 226,268 222,267.5" fill="#f5dfcb"/>
<polygon points="223,276 226,274.4 231,275.5 232.6,278.5 231,285 226,284 223,281" fill="#f5dfcb"/>
<polygon points="240,274 243.5,272 247,274 246,278 240.5,278.5" fill="#f5dfcb"/>
<polygon points="200,278.6 207,278.6 207,287 200,287" fill="#f5dfcb"/>
<polygon points="260,269.5 263.5,269 264,271.5 261,272.5" fill="#f5dfcb"/>
<polygon points="176.4,276 179,274.2 185,274.5 184.5,279 180,280.4 176.4,279" fill="#f5dfcb"/>
<polygon points="186.8,278 193,277 197,274.5 207,275 207,285.5 191,285.5 189,283 186.8,283" fill="#f5dfcb"/>
<polygon points="222,278 225.5,275.8 229,276 229,283 225.5,283 222,281.5" fill="#f5dfcb"/>
<polygon points="164.5,292.5 168.5,291.5 172.5,289 178,288 187,288 187,303.3 164,303.3 163,297" fill="#f5dfcb"/>
<polygon points="244.5,168 248,166.5 249,170 246,172" fill="#f5dfcb"/>
<polygon points="246,181 249.5,179.5 250,183.5 247,184" fill="#f5dfcb"/>
<polygon points="164.5,299.5 172,299.5 176,303.4 164.5,303.4" fill="#fff"/>
<polygon points="178.5,288 187,288 187,291 181,292" fill="#fff"/>
<rect x="158.4" y="297" width="4.4" height="7" fill="#fd8d3c"/>
<rect x="213.6" y="215.9" width="2" height="2.4" fill="#fd8d3c"/>
<rect x="249.9" y="184.2" width="4.2" height="4.8" fill="#c14002"/>
<polygon points="254.5,241.5 257.5,240.3 258.2,243.5 257,246 255,245" fill="#fd8d3c"/>
<polygon points="256.2,243 258.3,243 258.3,245.4 256.6,245.2" fill="#c14002"/>
<polyline points="229.2,143.9 229.2,157.1 222.2,167.5 220.8,169.6" fill="none" stroke="#38383b" stroke-width="0.65"/>
<polyline points="213.9,170.3 233.3,169.8 233.3,188.3 250,188.3" fill="none" stroke="#38383b" stroke-width="0.65"/>
<polyline points="229.2,157.1 238,164 247.8,171.7 256.1,178.6" fill="none" stroke="#38383b" stroke-width="0.65"/>
<polyline points="213.9,170.3 213.2,182.8 211.1,188.3 210.4,200 209.7,201.4" fill="none" stroke="#38383b" stroke-width="0.65"/>
<polyline points="200.7,174.4 211.8,173 209.7,185.6 202.8,187 200.7,174.4" fill="none" stroke="#38383b" stroke-width="0.65"/>
<polyline points="183.3,165.4 197.2,166.1 195.8,171.7 200.7,174.4" fill="none" stroke="#38383b" stroke-width="0.65"/>
<polyline points="181.3,187 187.5,189.7 195.8,191.1 197.9,195.3 204.2,200 204.2,204.2" fill="none" stroke="#38383b" stroke-width="0.65"/>
<polyline points="207,140.4 208.3,148 213.9,150.8 215.3,155 211.1,159.2 205.6,157.8 201.4,153.6 200,150.8" fill="none" stroke="#38383b" stroke-width="0.65"/>
<polyline points="179.9,200 187.5,204.2 193,212.5 194.4,219.4 191.7,221.5" fill="none" stroke="#38383b" stroke-width="0.65"/>
<polyline points="174.3,225.7 179.2,221.5 191.7,222.2 193,221 207,221.5 209,224.3" fill="none" stroke="#38383b" stroke-width="0.65"/>
<polyline points="192.4,221.5 193,232 196.5,238.9 197.9,247.2 197.2,254.2" fill="none" stroke="#38383b" stroke-width="0.65"/>
<polyline points="207.6,222.2 207.6,254.2" fill="none" stroke="#38383b" stroke-width="0.65"/>
<polyline points="185.4,270 185.4,254.9 207.6,254.2 207.6,246.5 221.5,246.5" fill="none" stroke="#38383b" stroke-width="0.65"/>
<polyline points="221.5,241.7 221.5,293" fill="none" stroke="#38383b" stroke-width="0.65"/>
<polyline points="204.2,204.2 209.7,201.4 225,202.8 227.8,206.9 231.9,208.3 230.6,218.1 232.6,230.6 226.4,240.3 221.5,241.7" fill="none" stroke="#38383b" stroke-width="0.65"/>
<polyline points="204.2,204.2 203.5,213.9 207,221.5" fill="none" stroke="#38383b" stroke-width="0.65"/>
<polyline points="221.5,241.7 233.3,241 240.3,234 247.2,231.9" fill="none" stroke="#38383b" stroke-width="0.65"/>
<polyline points="248.5,188.3 248.5,207.6 242.9,216.7 240.8,222.2 240.8,229.2 247.8,234.7 256.1,238.2" fill="none" stroke="#38383b" stroke-width="0.65"/>
<polyline points="248.5,207.6 254.7,206.25 261,210.4" fill="none" stroke="#38383b" stroke-width="0.65"/>
<polyline points="230.4,188.3 231.1,208.3" fill="none" stroke="#38383b" stroke-width="0.65"/>
<polyline points="168.75,255.6 175,262.5 184.7,268 186.8,270 186.8,278.3 172.2,288 166.7,292.2 163,294" fill="none" stroke="#38383b" stroke-width="0.65"/>
<polyline points="186.8,270 188.2,271.4 195.8,276.25 205.6,277 213.9,278.3 221.5,282.5" fill="none" stroke="#38383b" stroke-width="0.65"/>
<polyline points="158.3,304.4 208.3,304.4" fill="none" stroke="#38383b" stroke-width="0.65"/>
<polyline points="158,336.3 191.8,336.3" fill="none" stroke="#38383b" stroke-width="0.65"/>
<polyline points="272.8,184.4 275,189 276.3,190.4" fill="none" stroke="#38383b" stroke-width="0.65"/>
<polygon points="211.3,307.2 215,307.5 215.3,309.4 211.8,309.3" fill="#48494d"/>
</g>
</g>
<g id="map2">
<clipPath id="c2"><polygon points="581.9,140.6 584.7,143.3 589.6,142.6 594.4,143.3 597.2,147.5 599.3,143.3 602.1,141.7 608.3,141.7 611.8,146.1 615.3,149.6 622.2,154.4 629.2,158.6 636.1,162.1 643.1,164.9 648.6,167.6 650.0,169.7 647.9,173.9 645.1,178.0 642.4,182.9 641.0,185.7 647.2,185.3 655.6,185.7 662.5,185.7 666.7,183.6 670.8,179.4 673.6,175.3 674.3,171.8 676.4,169.7 679.9,170.4 681.8,174.5 682.0,178.0 679.2,181.9 674.0,185.4 669.5,188.2 665.3,190.6 662.5,193.3 659.7,197.5 656.9,201.0 653.5,205.0 650.0,209.2 648.6,214.7 648.6,221.7 647.9,227.2 645.1,232.8 645.1,238.3 646.5,242.5 650.0,245.3 653.5,248.0 654.9,251.5 654.2,254.3 656.9,257.1 659.0,259.9 658.3,263.3 655.6,267.5 653.0,271.3 645.0,275.3 631.0,278.0 625.0,279.5 618.0,280.2 615.3,279.9 616.7,284.7 615.3,290.3 613.9,294.4 608.3,295.8 602.8,295.1 595.8,294.4 593.0,297.2 593.0,302.8 597.2,304.9 601.4,304.9 604.2,305.6 604.2,309.0 600.0,310.4 595.8,311.8 591.7,316.0 591.0,322.2 588.9,327.1 580.6,330.6 576.4,333.3 573.6,337.5 573.6,340.0 578.3,343.5 585.3,346.2 588.0,349.0 586.0,353.2 579.7,357.4 575.6,361.5 572.1,365.7 567.9,369.2 564.4,371.9 561.7,376.1 560.3,380.3 563.0,384.4 566.5,388.3 564.4,387.9 557.5,386.5 547.8,385.6 539.4,384.7 536.7,381.0 535.3,375.8 529.7,375.4 526.9,371.2 526.9,365.7 531.1,362.9 535.3,358.0 534.6,353.9 536.0,349.7 539.4,345.6 540.3,340.0 540.3,336.1 543.0,330.6 538.9,326.4 540.3,320.8 538.9,315.3 537.5,308.3 538.9,304.9 538.9,298.6 539.6,291.7 541.7,286.1 543.8,280.6 545.8,275.0 545.1,270.3 545.1,264.7 547.2,260.6 550.0,256.4 549.3,250.8 551.4,245.3 553.5,239.7 553.5,232.8 552.1,227.2 550.0,221.7 550.0,216.1 552.8,210.6 553.5,205.0 554.9,198.9 556.9,194.7 560.4,189.2 561.8,184.3 563.9,180.8 563.2,175.3 564.6,170.4 563.9,166.2 566.0,162.8 570.1,160.0 574.3,157.2 575.0,151.0 576.4,146.8 579.9,143.3"/></clipPath>
<polygon points="581.9,140.6 584.7,143.3 589.6,142.6 594.4,143.3 597.2,147.5 599.3,143.3 602.1,141.7 608.3,141.7 611.8,146.1 615.3,149.6 622.2,154.4 629.2,158.6 636.1,162.1 643.1,164.9 648.6,167.6 650.0,169.7 647.9,173.9 645.1,178.0 642.4,182.9 641.0,185.7 647.2,185.3 655.6,185.7 662.5,185.7 666.7,183.6 670.8,179.4 673.6,175.3 674.3,171.8 676.4,169.7 679.9,170.4 681.8,174.5 682.0,178.0 679.2,181.9 674.0,185.4 669.5,188.2 665.3,190.6 662.5,193.3 659.7,197.5 656.9,201.0 653.5,205.0 650.0,209.2 648.6,214.7 648.6,221.7 647.9,227.2 645.1,232.8 645.1,238.3 646.5,242.5 650.0,245.3 653.5,248.0 654.9,251.5 654.2,254.3 656.9,257.1 659.0,259.9 658.3,263.3 655.6,267.5 653.0,271.3 645.0,275.3 631.0,278.0 625.0,279.5 618.0,280.2 615.3,279.9 616.7,284.7 615.3,290.3 613.9,294.4 608.3,295.8 602.8,295.1 595.8,294.4 593.0,297.2 593.0,302.8 597.2,304.9 601.4,304.9 604.2,305.6 604.2,309.0 600.0,310.4 595.8,311.8 591.7,316.0 591.0,322.2 588.9,327.1 580.6,330.6 576.4,333.3 573.6,337.5 573.6,340.0 578.3,343.5 585.3,346.2 588.0,349.0 586.0,353.2 579.7,357.4 575.6,361.5 572.1,365.7 567.9,369.2 564.4,371.9 561.7,376.1 560.3,380.3 563.0,384.4 566.5,388.3 564.4,387.9 557.5,386.5 547.8,385.6 539.4,384.7 536.7,381.0 535.3,375.8 529.7,375.4 526.9,371.2 526.9,365.7 531.1,362.9 535.3,358.0 534.6,353.9 536.0,349.7 539.4,345.6 540.3,340.0 540.3,336.1 543.0,330.6 538.9,326.4 540.3,320.8 538.9,315.3 537.5,308.3 538.9,304.9 538.9,298.6 539.6,291.7 541.7,286.1 543.8,280.6 545.8,275.0 545.1,270.3 545.1,264.7 547.2,260.6 550.0,256.4 549.3,250.8 551.4,245.3 553.5,239.7 553.5,232.8 552.1,227.2 550.0,221.7 550.0,216.1 552.8,210.6 553.5,205.0 554.9,198.9 556.9,194.7 560.4,189.2 561.8,184.3 563.9,180.8 563.2,175.3 564.6,170.4 563.9,166.2 566.0,162.8 570.1,160.0 574.3,157.2 575.0,151.0 576.4,146.8 579.9,143.3" fill="#fff" stroke="#2a2a2c" stroke-width="0.7"/>
<polygon points="565.6,392.2 568.0,395.7 573.6,401.2 582.0,405.4 591.7,406.8 593.0,408.6 583.3,410.3 565.6,408.9" fill="#fff" stroke="#2a2a2c" stroke-width="0.6"/>
<polygon points="565.6,406.6 582,405.4 591.7,406.8 593,408.6 583.3,410.3 565.6,408.9" fill="#fdd0a2"/>
<polygon points="624.2,386 626,383.4 629,381 633.5,379.2 638,378.6 639,380.4 636,382.4 634,385 630.5,387 627,387.6" fill="#e4e4e4"/>
<polygon points="637,386.4 638.6,383.4 641.5,380.8 646,379 650,379.6 652,381.4 648.5,382.9 645.8,384 644,386.6 641,388 638.4,388" fill="#f8f8f8"/>
<path d="M624.5,381 l4,2 l5,-3 l4.5,-0.6 M626,386 l4.5,-2.5 M630,379.5 l1.5,6 M639.5,386 l3.5,-2.6 l5,-1.6 M642,381 l1.6,5" stroke="#222" stroke-width="0.6" fill="none"/>
<g clip-path="url(#c2)">
<polygon points="593.6,150.8 598,150.8 598.5,153.5 603.3,153.8 603.3,157.5 600,159.2 597,157.8 593.6,157" fill="#fdd0a2" stroke="#3a3a3c" stroke-width="0.4"/>
<polygon points="583.9,175.3 589,174.4 592.2,176.5 590,180 584.5,179" fill="#fdd0a2" stroke="#3a3a3c" stroke-width="0.4"/>
<polygon points="604.7,188.3 617.2,188.3 617.2,192.5 607,192.5" fill="#fdd0a2" stroke="#3a3a3c" stroke-width="0.4"/>
<polygon points="634.5,190.5 641,190.5 640,195.5 636,201.5 632.2,202.6 632.8,196.5" fill="#fdd0a2" stroke="#3a3a3c" stroke-width="0.4"/>
<polygon points="643.6,199 648,195.3 653.3,196.5 651,201.5 646,203.6" fill="#fdd0a2" stroke="#3a3a3c" stroke-width="0.4"/>
<polygon points="643.6,209 649.2,209 648.6,214.7 644,214.7" fill="#fdd0a2" stroke="#3a3a3c" stroke-width="0.4"/>
<polygon points="639.4,224 644,223 646.4,226 645,231.4 640.5,231" fill="#fdd0a2" stroke="#3a3a3c" stroke-width="0.4"/>
<polygon points="628.3,217.5 633.5,217.5 635.3,221 632,223 628.3,222" fill="#fdd0a2" stroke="#3a3a3c" stroke-width="0.4"/>
<polygon points="604.9,225 608.5,223 607.5,230 609,236.5 606.5,237.6 604.9,231" fill="#fdd0a2" stroke="#3a3a3c" stroke-width="0.4"/>
<polygon points="609.5,224 613.2,223 613.2,229 611,236.5 609.2,237 610.3,230" fill="#fdd0a2" stroke="#3a3a3c" stroke-width="0.4"/>
<polygon points="592.4,230 596,227 601,225.8 601.4,233 600,240 595,241.1 592.4,237" fill="#fdd0a2" stroke="#3a3a3c" stroke-width="0.4"/>
<polygon points="552.8,228.5 556,224 560.5,224 563.2,227 561,230.5 563,233.5 557.5,232.5 554,233.5" fill="#fdd0a2" stroke="#3a3a3c" stroke-width="0.4"/>
<polygon points="614.6,266 618,264 620.8,266 620.5,271.7 616,271.7" fill="#fdd0a2" stroke="#3a3a3c" stroke-width="0.4"/>
<polygon points="624.2,229.5 628,227.5 631,230 628,233.5 624.5,233" fill="#fdd0a2" stroke="#3a3a3c" stroke-width="0.4"/>
<polygon points="631,247 636,245.5 638.5,248 634,251.5 630,251" fill="#fdd0a2" stroke="#3a3a3c" stroke-width="0.4"/>
<polygon points="626,258 631,255 635,257 633,262 627.5,263" fill="#fdd0a2" stroke="#3a3a3c" stroke-width="0.4"/>
<polygon points="636,252 640,250 643,252.5 640,256.5 636.5,256" fill="#fdd0a2" stroke="#3a3a3c" stroke-width="0.4"/>
<polygon points="640.5,258 645,256.5 647.5,260 644,264 640.5,263" fill="#fdd0a2" stroke="#3a3a3c" stroke-width="0.4"/>
<polygon points="617,260.5 620.5,258 622,262 620,266 617,265" fill="#fdd0a2" stroke="#3a3a3c" stroke-width="0.4"/>
<polygon points="648,236 650.5,238 650.5,242 648,241" fill="#fdd0a2" stroke="#3a3a3c" stroke-width="0.4"/>
<polygon points="647,256 650,254 653,256.5 650.5,260 647.5,259.5" fill="#fdd0a2" stroke="#3a3a3c" stroke-width="0.4"/>
<polygon points="623,270.5 627,268.5 630,270 629,275 624,275.5" fill="#fdd0a2" stroke="#3a3a3c" stroke-width="0.4"/>
<polygon points="607,277.5 610.5,276.4 614,277.5 614,284.7 610,284.7 607.5,282" fill="#fdd0a2" stroke="#3a3a3c" stroke-width="0.4"/>
<polygon points="590.3,316.5 593.5,312.4 597.8,311.4 595.5,314 592.4,318" fill="#fdd0a2" stroke="#3a3a3c" stroke-width="0.4"/>
<polygon points="539.6,289.6 545,288.9 546,293 550.5,292 554.9,289.5 553,295.5 548,299.5 543.7,300 543.5,304.2 539.6,304.2 540,297 543,293.5" fill="#fdd0a2" stroke="#3a3a3c" stroke-width="0.4"/>
<polygon points="556.8,357.4 568.6,356.7 573.5,354.6 577,358 572.1,365 563,365 556.8,363.6" fill="#fdd0a2" stroke="#3a3a3c" stroke-width="0.4"/>
<polygon points="536,375.8 561.7,376.1 560.3,380.3 563,384.4 566.5,388.3 557.5,386.5 539.4,384.7 536.7,381" fill="#fdd0a2" stroke="#3a3a3c" stroke-width="0.4"/>
<polygon points="646.5,205.5 649.5,205.5 649,209 646.5,209" fill="#fdd0a2" stroke="#3a3a3c" stroke-width="0.4"/>
<polygon points="641,173.5 644.5,172 645.5,175.5 642.5,177" fill="#fdd0a2" stroke="#3a3a3c" stroke-width="0.4"/>
<polygon points="636.8,178 640,176.5 640.5,181 637.5,182" fill="#fdd0a2" stroke="#3a3a3c" stroke-width="0.4"/>
<polygon points="557.6,278.8 562.7,275.7 567.2,278.8 567.9,280.5 562.7,282.6" fill="#fd8d3c" stroke="#3a3a3c" stroke-width="0.4"/>
<polygon points="567.2,269.5 570.5,269.8 571.1,272.7 573.7,274 578.2,275.9 579.5,278.8 578.2,280.8 568.8,280.1 567.2,275.9" fill="#fd8d3c" stroke="#3a3a3c" stroke-width="0.4"/>
<polygon points="638,273.5 641,269.7 643.6,272 642.5,275.3 639,275.3" fill="#fd8d3c" stroke="#3a3a3c" stroke-width="0.4"/>
<rect x="637.2" y="185.7" width="4.2" height="4.6" fill="#e6550d" stroke="#3a3a3c" stroke-width="0.4"/>
<polygon points="640,241 643,239.5 646,240.5 648.5,244 650,246.5 647,248 643.5,247 641,245" fill="#fd8d3c"/>
<polygon points="643,241.5 646,241.5 648,244.5 646.5,246.5 644,245.5" fill="#c14002"/>
<polygon points="645,242.3 647,243 647.3,245 645.6,245" fill="#7f2704"/>
<path d="M550.0,221.3 553.5,220.9M553.5,220.9 555.6,217.8M555.6,217.8 551.4,213.3M549.4,251.2 554.1,247.4M554.1,247.4 554.6,242.3M554.6,242.3 553.0,241.0M553.5,220.9 554.7,222.2M554.7,222.2 556.9,223.2M556.9,223.2 560.7,220.3M560.7,220.3 559.4,218.1M559.4,218.1 558.1,217.3M558.1,217.3 555.6,217.8M552.4,228.4 553.5,227.7M553.5,227.7 554.7,222.2M553.5,238.7 560.4,237.9M560.4,237.9 561.6,235.3M561.6,235.3 555.2,232.5M555.2,232.5 553.4,232.5M553.5,227.7 557.7,226.3M557.7,226.3 556.9,223.2M556.8,211.5 558.6,209.3M558.6,209.3 557.9,207.0M557.9,207.0 553.4,206.0M551.9,212.5 556.8,211.5M556.8,211.5 558.0,215.0M558.0,215.0 562.9,211.8M562.9,211.8 563.2,211.0M563.2,211.0 558.6,209.3M557.9,207.0 560.7,201.8M560.7,201.8 560.4,201.3M560.4,201.3 554.7,199.9M555.2,232.5 560.4,227.7M560.4,227.7 557.7,226.3M558.1,217.3 558.0,215.0M560.3,254.5 560.9,252.8M560.9,252.8 558.5,246.4M558.5,246.4 554.1,247.4M558.5,246.4 558.8,244.2M558.8,244.2 554.6,242.3M559.4,218.1 562.5,215.3M562.5,215.3 562.9,211.8M560.4,201.3 560.5,193.6M560.5,193.6 559.0,191.4M558.8,244.2 558.8,244.2M560.9,252.8 564.2,249.7M564.2,249.7 564.2,248.6M564.2,248.6 562.8,245.3M562.8,245.3 558.8,244.2M558.8,244.2 560.9,240.8M560.9,240.8 560.4,237.9M561.6,235.3 564.2,233.6M564.2,233.6 564.5,232.8M564.5,232.8 561.2,227.7M561.2,227.7 560.4,227.7M561.2,227.7 563.2,223.7M563.2,223.7 562.4,221.4M562.4,221.4 560.7,220.3M562.8,245.3 565.4,242.5M565.4,242.5 560.9,240.8M560.9,187.3 567.1,188.2M567.1,188.2 570.6,184.0M570.6,184.0 563.7,179.3M564.5,232.8 567.8,231.0M567.8,231.0 568.6,230.3M568.6,230.3 569.1,229.8M569.1,229.8 567.6,224.4M567.6,224.4 563.2,223.7M565.4,242.5 565.7,242.5M565.7,242.5 567.1,241.4M567.1,241.4 565.6,235.4M565.6,235.4 564.2,233.6M563.2,211.0 566.5,209.8M566.5,209.8 567.1,208.4M567.1,208.4 563.7,202.3M563.7,202.3 560.7,201.8M562.4,221.4 566.5,217.9M566.5,217.9 562.5,215.3M572.9,254.5 569.8,248.8M569.8,248.8 564.2,249.7M565.7,242.5 566.0,244.2M566.0,244.2 570.0,248.3M570.0,248.3 571.8,245.5M571.8,245.5 569.8,241.7M569.8,241.7 567.1,241.4M566.5,217.9 567.9,217.5M567.9,217.5 568.3,213.0M568.3,213.0 566.5,209.8M563.7,202.3 567.7,198.9M567.7,198.9 567.3,195.2M567.3,195.2 560.5,193.6M564.2,248.6 566.0,244.2M567.1,208.4 570.2,207.2M570.2,207.2 572.5,204.4M572.5,204.4 568.8,199.4M568.8,199.4 567.7,198.9M565.6,235.4 572.7,238.0M572.7,238.0 573.5,237.6M573.5,237.6 567.8,231.0M569.8,248.8 570.0,248.3M568.3,213.0 571.1,213.3M571.1,213.3 574.2,210.3M574.2,210.3 570.2,207.2M567.6,224.4 570.0,222.0M570.0,222.0 569.8,219.2M569.8,219.2 567.9,217.5M567.3,195.2 569.2,192.6M569.2,192.6 567.1,188.2M569.2,192.6 573.6,192.5M573.6,192.5 574.8,191.5M574.8,191.5 575.7,190.1M575.7,190.1 571.3,183.9M571.3,183.9 570.6,184.0M564.4,169.4 575.0,162.3M575.0,162.3 574.5,155.8M569.8,241.7 572.7,238.0M568.8,199.4 572.2,198.4M572.2,198.4 573.9,194.0M573.9,194.0 573.6,192.5M606.3,293.6 610.3,292.4M610.3,292.4 610.5,288.3M610.5,288.3 610.3,288.1M610.3,288.1 606.3,288.9M577.9,254.5 579.1,250.3M579.1,250.3 575.1,245.1M575.1,245.1 571.8,245.5M575.1,245.1 577.9,240.1M577.9,240.1 575.0,237.4M575.0,237.4 573.5,237.6M569.8,219.2 573.6,217.7M573.6,217.7 573.7,214.9M573.7,214.9 571.1,213.3M569.1,229.8 574.4,228.9M574.4,228.9 574.5,224.5M574.5,224.5 570.0,222.0M571.3,183.9 574.3,180.4M574.3,180.4 573.2,173.5M573.2,173.5 564.5,169.7M568.6,230.3 575.2,236.7M575.2,236.7 576.8,230.8M576.8,230.8 574.4,228.9M575.0,237.4 575.2,236.7M575.0,162.3 578.1,164.1M578.1,164.1 581.3,163.0M581.3,163.0 581.4,158.0M581.4,158.0 581.2,157.6M581.2,157.6 579.8,156.1M579.8,156.1 576.6,154.9M576.6,154.9 574.5,155.2M572.2,198.4 574.2,199.5M574.2,199.5 576.3,197.3M576.3,197.3 573.9,194.0M573.2,173.5 574.9,172.9M574.9,172.9 577.7,170.1M577.7,170.1 578.1,164.1M572.5,204.4 575.3,203.7M575.3,203.7 574.2,199.5M574.5,224.5 578.2,221.0M578.2,221.0 576.6,219.2M576.6,219.2 573.6,217.7M573.7,214.9 575.0,213.8M575.0,213.8 575.1,210.5M575.1,210.5 574.2,210.3M575.1,210.5 579.7,208.3M579.7,208.3 579.8,208.2M579.8,208.2 579.7,207.9M579.7,207.9 577.1,204.0M577.1,204.0 575.3,203.7M576.3,197.3 578.0,197.8M578.0,197.8 579.5,195.6M579.5,195.6 574.8,191.5M576.8,230.8 580.2,230.3M580.2,230.3 582.1,225.0M582.1,225.0 579.8,221.1M579.8,221.1 578.2,221.0M577.9,240.1 582.0,240.4M582.0,240.4 583.6,238.8M583.6,238.8 583.8,232.9M583.8,232.9 580.2,230.3M576.6,219.2 577.6,214.8M577.6,214.8 577.4,214.6M577.4,214.6 575.0,213.8M588.4,254.5 588.8,248.1M588.8,248.1 583.7,246.4M583.7,246.4 579.1,250.3M575.7,190.1 578.2,189.1M578.2,189.1 580.4,185.6M580.4,185.6 580.4,185.0M580.4,185.0 579.6,182.6M579.6,182.6 574.3,180.4M577.4,214.6 579.7,208.3M577.1,204.0 579.2,200.7M579.2,200.7 578.0,197.8M579.6,182.6 581.6,180.3M581.6,180.3 581.6,176.2M581.6,176.2 574.9,172.9M579.8,221.1 581.6,219.2M581.6,219.2 580.8,215.1M580.8,215.1 577.6,214.8M579.5,195.6 581.2,195.0M581.2,195.0 580.6,191.4M580.6,191.4 578.2,189.1M580.7,148.0 580.8,148.0M580.8,148.0 586.3,148.7M586.3,148.7 587.1,143.0M584.6,143.2 580.1,145.6M580.1,145.6 580.7,148.0M580.7,148.0 576.6,154.9M579.8,156.1 582.0,154.2M582.0,154.2 582.7,150.7M582.7,150.7 580.8,148.0M580.1,145.6 578.6,144.6M580.8,215.1 582.1,212.4M582.1,212.4 581.9,210.1M581.9,210.1 579.8,208.2M583.7,246.4 582.0,240.4M579.2,200.7 582.5,199.9M582.5,199.9 583.2,198.2M583.2,198.2 582.0,195.4M582.0,195.4 581.2,195.0M583.8,232.9 590.1,230.4M590.1,230.4 591.6,227.3M591.6,227.3 590.1,224.9M590.1,224.9 582.1,225.0M581.6,176.2 582.8,175.5M582.8,175.5 583.2,174.5M583.2,174.5 583.3,172.6M583.3,172.6 580.1,169.9M580.1,169.9 577.7,170.1M580.1,169.9 584.4,167.3M584.4,167.3 583.5,164.1M583.5,164.1 581.3,163.0M579.7,207.9 585.0,203.1M585.0,203.1 582.5,199.9M580.6,191.4 585.7,191.0M585.7,191.0 585.8,188.5M585.8,188.5 580.4,185.6M590.1,224.9 590.1,223.0M590.1,223.0 587.3,219.5M587.3,219.5 583.4,218.8M583.4,218.8 581.6,219.2M588.8,248.1 592.1,246.1M592.1,246.1 591.8,239.6M591.8,239.6 583.6,238.8M583.4,218.8 584.8,214.9M584.8,214.9 582.1,212.4M581.9,210.1 584.1,209.9M584.1,209.9 587.0,206.8M587.0,206.8 585.5,203.2M585.5,203.2 585.0,203.1M580.4,185.0 586.4,183.5M586.4,183.5 584.4,180.3M584.4,180.3 581.6,180.3M581.2,157.6 585.4,156.1M585.4,156.1 585.6,153.1M585.6,153.1 582.0,154.2M584.4,180.3 585.9,179.3M585.9,179.3 586.0,177.4M586.0,177.4 585.5,176.5M585.5,176.5 582.8,175.5M583.3,172.6 585.8,170.7M585.8,170.7 584.8,167.5M584.8,167.5 584.4,167.3M583.2,198.2 585.9,197.6M585.9,197.6 585.7,193.1M585.7,193.1 582.0,195.4M585.7,193.1 586.3,192.2M586.3,192.2 585.7,191.0M585.6,153.1 586.1,152.5M586.1,152.5 582.7,150.7M586.1,152.5 586.5,152.3M586.5,152.3 586.5,149.0M586.5,149.0 586.3,148.7M585.5,203.2 590.2,200.6M590.2,200.6 590.5,199.2M590.5,199.2 585.9,197.6M584.8,167.5 588.2,167.1M588.2,167.1 589.3,163.3M589.3,163.3 588.5,160.9M588.5,160.9 583.5,164.1M583.2,174.5 587.9,173.2M587.9,173.2 587.8,172.1M587.8,172.1 585.8,170.7M588.5,160.9 588.6,160.6M588.6,160.6 581.4,158.0M588.6,160.6 588.6,160.6M588.6,160.6 588.6,160.4M588.6,160.4 587.9,158.0M587.9,158.0 585.4,156.1M587.9,158.0 589.3,153.7M589.3,153.7 589.3,153.1M589.3,153.1 586.5,152.3M585.8,188.5 585.9,188.3M585.9,188.3 586.7,183.7M586.7,183.7 586.5,183.5M586.5,183.5 586.4,183.5M586.5,183.5 588.4,180.8M588.4,180.8 588.3,180.1M588.3,180.1 585.9,179.3M590.5,199.2 592.3,197.0M592.3,197.0 589.0,193.1M589.0,193.1 586.3,192.2M597.7,254.5 593.7,246.7M593.7,246.7 592.1,246.1M606.3,265.8 607.9,265.3M607.9,265.3 609.3,261.9M609.3,261.9 608.2,260.3M608.2,260.3 606.3,259.4M584.8,214.9 586.4,214.7M586.4,214.7 588.2,212.1M588.2,212.1 584.1,209.9M590.1,223.0 595.9,215.3M595.9,215.3 591.4,214.5M591.4,214.5 587.7,217.5M587.7,217.5 587.3,219.5M589.0,193.1 591.1,189.5M591.1,189.5 589.5,187.5M589.5,187.5 585.9,188.3M587.7,217.5 586.4,214.7M586.5,149.0 591.6,148.2M591.6,148.2 593.4,143.2M593.4,143.2 593.3,143.1M585.5,176.5 587.8,173.9M587.8,173.9 587.9,173.4M587.9,173.4 587.9,173.2M589.3,163.3 593.1,166.2M593.1,166.2 595.2,163.4M595.2,163.4 595.2,163.4M595.2,163.4 590.8,160.9M590.8,160.9 588.6,160.6M588.2,212.1 588.2,212.1M588.2,212.1 590.8,207.6M590.8,207.6 587.0,206.8M590.8,207.6 593.1,206.6M593.1,206.6 590.2,200.6M587.8,172.1 590.4,170.0M590.4,170.0 590.7,168.9M590.7,168.9 588.2,167.1M591.8,239.6 592.8,238.3M592.8,238.3 590.1,230.4M586.0,177.4 588.7,177.0M588.7,177.0 587.8,173.9M588.3,180.1 589.9,178.5M589.9,178.5 589.9,177.9M589.9,177.9 588.7,177.0M589.5,187.5 590.0,186.3M590.0,186.3 589.1,184.4M589.1,184.4 586.7,183.7M589.3,153.1 591.2,151.8M591.2,151.8 591.7,151.1M591.7,151.1 591.6,148.2M589.9,177.9 591.8,175.2M591.8,175.2 591.8,175.0M591.8,175.0 587.9,173.4M591.6,227.3 595.5,227.3M595.5,227.3 600.3,220.9M600.3,220.9 597.4,214.7M597.4,214.7 595.9,215.3M591.4,214.5 588.2,212.1M591.8,175.0 593.0,173.3M593.0,173.3 590.4,170.0M589.1,184.4 590.4,182.5M590.4,182.5 588.4,180.8M588.6,160.4 591.5,157.6M591.5,157.6 591.7,156.5M591.7,156.5 589.3,153.7M593.1,206.6 593.7,206.8M593.7,206.8 599.5,202.0M599.5,202.0 599.5,200.4M599.5,200.4 595.2,196.2M595.2,196.2 592.3,197.0M590.4,182.5 592.3,182.2M592.3,182.2 592.8,180.2M592.8,180.2 589.9,178.5M592.8,238.3 598.7,237.3M598.7,237.3 600.7,233.8M600.7,233.8 599.7,230.8M599.7,230.8 595.5,227.3M593.4,143.2 595.4,144.8M597.7,146.5 599.8,148.2M599.8,148.2 602.6,148.8M602.6,148.8 603.5,148.3M603.5,148.3 603.4,141.7M592.8,180.2 593.5,179.8M593.5,179.8 593.5,176.8M593.5,176.8 591.8,175.2M595.2,196.2 596.6,193.1M596.6,193.1 594.2,189.6M594.2,189.6 591.1,189.5M597.4,214.7 597.9,213.6M597.9,213.6 593.7,206.8M590.7,168.9 593.0,167.5M593.0,167.5 593.1,166.2M591.7,156.5 593.1,155.5M593.1,155.5 591.2,151.8M590.0,186.3 593.9,184.9M593.9,184.9 592.3,182.2M593.7,246.7 600.5,245.0M600.5,245.0 601.7,242.7M601.7,242.7 598.7,237.3M593.1,155.5 594.8,155.7M594.8,155.7 595.3,155.2M595.3,155.2 593.3,151.7M593.3,151.7 591.7,151.1M594.2,189.6 594.8,185.4M594.8,185.4 593.9,184.9M593.0,173.3 593.9,173.1M593.9,173.1 594.3,172.6M594.3,172.6 594.6,168.7M594.6,168.7 593.0,167.5M590.8,160.9 594.9,158.9M594.9,158.9 594.5,158.1M594.5,158.1 591.5,157.6M594.8,185.4 597.5,184.4M597.5,184.4 596.7,179.9M596.7,179.9 593.5,179.8M596.6,193.1 601.0,190.8M601.0,190.8 599.1,184.9M599.1,184.9 597.5,184.4M593.5,176.8 597.0,176.1M597.0,176.1 593.9,173.1M594.6,168.7 596.8,168.8M596.8,168.8 597.0,168.6M597.0,168.6 598.5,167.1M598.5,167.1 595.2,163.4M595.2,163.4 597.4,160.8M597.4,160.8 594.9,158.9M594.5,158.1 594.8,155.7M606.3,257.6 609.6,255.0M609.6,255.0 608.4,252.8M608.4,252.8 608.1,252.6M608.1,252.6 605.0,254.5M599.3,254.5 602.3,249.4M602.3,249.4 600.5,245.0M597.4,160.8 599.1,160.4M599.1,160.4 601.4,156.9M601.4,156.9 601.4,156.7M601.4,156.7 596.7,154.9M596.7,154.9 595.3,155.2M593.3,151.7 596.5,151.3M596.5,151.3 599.8,148.2M596.7,179.9 598.7,177.3M598.7,177.3 598.5,176.6M598.5,176.6 597.0,176.1M594.3,172.6 597.6,172.0M597.6,172.0 596.8,168.8M598.5,176.6 599.5,173.5M599.5,173.5 597.6,172.0M597.9,213.6 605.2,210.2M605.2,210.2 605.0,208.4M605.0,208.4 599.5,202.0M599.1,184.9 603.6,181.9M603.6,181.9 604.0,179.9M604.0,179.9 598.7,177.3M596.7,154.9 596.5,151.3M601.4,156.7 602.6,148.8M599.7,230.8 606.6,224.8M606.6,224.8 605.2,222.5M605.2,222.5 600.3,220.9M598.5,167.1 602.3,166.1M602.3,166.1 599.1,160.4M599.5,173.5 602.0,171.8M602.0,171.8 597.0,168.6M599.5,200.4 604.7,197.8M604.7,197.8 603.9,191.3M603.9,191.3 601.0,190.8M604.0,179.9 608.9,176.2M608.9,176.2 607.2,172.7M607.2,172.7 604.1,170.8M604.1,170.8 602.0,171.8M602.3,166.1 602.7,166.3M602.7,166.3 607.3,162.7M607.3,162.7 606.5,158.7M606.5,158.7 601.4,156.9M604.1,170.8 602.7,166.3M605.2,222.5 609.9,213.0M609.9,213.0 609.9,212.7M609.9,212.7 605.2,210.2M608.1,252.6 607.0,249.7M607.0,249.7 602.3,249.4M605.0,208.4 608.2,201.9M608.2,201.9 607.2,199.0M607.2,199.0 604.7,197.8M601.7,242.7 604.0,242.4M604.0,242.4 608.0,238.3M608.0,238.3 608.2,235.1M608.2,235.1 607.5,234.4M607.5,234.4 600.7,233.8M603.5,148.3 605.1,148.4M605.1,148.4 610.2,144.1M603.9,191.3 607.9,188.9M607.9,188.9 603.6,181.9M607.5,234.4 608.6,225.8M608.6,225.8 606.6,224.8M607.2,172.7 612.1,165.2M612.1,165.2 607.3,162.7M606.5,158.7 611.3,154.9M611.3,154.9 610.8,152.8M610.8,152.8 605.1,148.4M607.2,199.0 613.2,194.4M613.2,194.4 608.2,188.9M608.2,188.9 607.9,188.9M608.2,188.9 611.6,185.4M611.6,185.4 612.3,177.5M612.3,177.5 608.9,176.2M608.6,225.8 611.3,225.5M611.3,225.5 614.2,222.0M614.2,222.0 609.9,213.0M607.0,249.7 607.4,249.1M607.4,249.1 607.3,244.9M607.3,244.9 604.0,242.4M609.9,212.7 610.0,212.7M610.0,212.7 612.9,209.9M612.9,209.9 614.2,202.8M614.2,202.8 608.2,201.9M606.3,272.1 609.8,271.9M609.8,271.9 611.0,268.7M611.0,268.7 609.3,266.1M609.3,266.1 607.9,265.3M608.4,252.8 613.8,250.5M613.8,250.5 613.5,249.5M613.5,249.5 610.4,248.2M610.4,248.2 607.4,249.1M610.4,248.2 612.0,244.0M612.0,244.0 611.3,243.3M611.3,243.3 607.3,244.9M611.3,243.3 611.1,241.7M611.1,241.7 608.0,238.3M612.1,165.2 612.6,165.1M612.6,165.1 616.1,160.6M616.1,160.6 614.8,157.1M614.8,157.1 611.3,154.9M606.3,284.5 609.2,284.7M609.2,284.7 610.4,282.6M610.4,282.6 608.8,278.8M608.8,278.8 608.4,278.5M608.4,278.5 606.3,277.9M608.2,260.3 610.7,255.9M610.7,255.9 609.6,255.0M610.3,288.1 609.2,284.7M612.9,294.7 610.3,292.4M610.4,282.6 611.9,282.5M611.9,282.5 614.6,280.8M614.6,280.8 614.8,277.9M614.8,277.9 608.8,278.8M614.2,202.8 617.8,200.0M617.8,200.0 613.8,194.6M613.8,194.6 613.2,194.4M608.4,278.5 611.2,274.8M611.2,274.8 610.4,272.4M610.4,272.4 609.8,271.9M612.3,177.5 613.8,177.1M613.8,177.1 617.3,174.0M617.3,174.0 617.5,170.6M617.5,170.6 612.6,165.1M610.7,255.9 612.5,256.4M612.5,256.4 614.2,255.8M614.2,255.8 613.8,250.6M613.8,250.6 613.8,250.5M608.2,235.1 611.8,234.7M611.8,234.7 615.4,230.1M615.4,230.1 611.3,225.5M609.3,261.9 611.9,261.3M611.9,261.3 612.3,260.7M612.3,260.7 612.5,256.4M614.8,277.9 615.2,277.1M615.2,277.1 614.5,275.8M614.5,275.8 611.2,274.8M615.5,289.4 611.9,288.1M611.9,288.1 610.5,288.3M609.3,266.1 613.7,264.7M613.7,264.7 611.9,261.3M611.9,288.1 614.4,285.2M614.4,285.2 611.9,282.5M611.1,241.7 615.8,238.2M615.8,238.2 611.8,234.7M610.4,272.4 615.2,271.6M615.2,271.6 615.7,270.9M615.7,270.9 615.3,268.9M615.3,268.9 615.1,268.6M615.1,268.6 611.0,268.7M615.4,230.1 616.6,230.2M616.6,230.2 620.8,226.9M620.8,226.9 620.9,224.0M620.9,224.0 617.4,221.6M617.4,221.6 614.2,222.0M617.4,221.6 619.2,215.9M619.2,215.9 610.0,212.7M613.8,194.6 618.3,189.5M618.3,189.5 617.8,187.3M617.8,187.3 611.6,185.4M610.8,152.8 614.4,148.7M614.8,157.1 619.8,152.7M613.5,249.5 614.7,247.0M614.7,247.0 612.4,244.1M612.4,244.1 612.0,244.0M612.4,244.1 617.0,242.3M617.0,242.3 616.8,238.4M616.8,238.4 615.8,238.2M612.9,209.9 621.5,208.9M621.5,208.9 623.1,200.9M623.1,200.9 617.8,200.0M613.7,264.7 615.0,265.3M615.0,265.3 617.3,263.4M617.3,263.4 616.0,261.0M616.0,261.0 612.3,260.7M615.1,268.6 615.0,265.3M616.8,238.4 620.5,236.4M620.5,236.4 620.6,236.3M620.6,236.3 616.6,230.2M615.3,268.9 622.1,266.7M622.1,266.7 622.2,266.5M622.2,266.5 621.4,263.8M621.4,263.8 617.3,263.4M613.8,250.6 618.5,251.0M618.5,251.0 618.8,250.7M618.8,250.7 617.4,246.5M617.4,246.5 614.7,247.0M615.2,277.1 615.7,277.1M615.7,277.1 618.0,275.8M618.0,275.8 618.8,273.2M618.8,273.2 618.0,271.9M618.0,271.9 615.7,270.9M615.2,271.6 614.5,275.8M616.0,261.0 617.2,256.5M617.2,256.5 617.2,256.4M617.2,256.4 614.2,255.8M617.5,170.6 622.1,166.5M622.1,166.5 622.4,163.9M622.4,163.9 620.8,161.7M620.8,161.7 616.1,160.6M614.4,285.2 616.6,285.1M615.8,281.8 614.6,280.8M629.0,278.5 626.2,275.0M626.2,275.0 623.0,276.4M623.0,276.4 623.9,279.6M639.5,276.4 639.1,275.2M639.1,275.2 636.7,273.1M636.7,273.1 633.2,273.2M633.2,273.2 631.4,277.9M623.0,276.4 623.0,276.4M623.0,276.4 621.2,277.3M621.2,277.3 619.9,280.0M623.1,200.9 623.3,200.8M623.3,200.8 624.9,193.3M624.9,193.3 624.3,192.2M624.3,192.2 618.3,189.5M617.8,187.3 620.1,183.4M620.1,183.4 613.8,177.1M617.4,246.5 618.7,244.6M618.7,244.6 617.0,242.3M619.2,280.1 615.7,277.1M617.2,256.4 617.9,255.4M617.9,255.4 618.5,251.0M618.7,244.6 620.5,244.6M620.5,244.6 621.4,243.3M621.4,243.3 621.3,241.3M621.3,241.3 620.5,236.4M629.9,159.0 627.9,162.9M627.9,162.9 631.9,168.9M631.9,168.9 633.1,169.4M633.1,169.4 633.2,169.3M633.2,169.3 638.6,163.1M621.4,263.8 621.5,263.7M621.5,263.7 618.2,257.3M618.2,257.3 617.2,256.5M618.0,271.9 621.7,268.8M621.7,268.8 622.1,266.7M617.9,255.4 623.2,254.4M623.2,254.4 620.7,250.4M620.7,250.4 618.8,250.7M620.7,250.4 621.3,249.8M621.3,249.8 621.6,245.8M621.6,245.8 620.5,244.6M619.2,215.9 622.6,214.1M622.6,214.1 623.0,212.4M623.0,212.4 621.5,208.9M620.9,224.0 623.9,222.3M623.9,222.3 625.2,217.7M625.2,217.7 622.6,214.1M620.1,183.4 624.8,182.5M624.8,182.5 625.8,178.0M625.8,178.0 623.8,175.6M623.8,175.6 617.3,174.0M624.3,192.2 626.0,184.0M626.0,184.0 624.8,182.5M621.2,277.3 618.0,275.8M620.6,236.3 624.2,235.5M624.2,235.5 625.6,230.9M625.6,230.9 620.8,226.9M618.2,257.3 622.1,258.0M622.1,258.0 624.1,255.5M624.1,255.5 624.1,254.8M624.1,254.8 623.2,254.4M623.8,175.6 625.8,170.0M625.8,170.0 622.1,166.5M620.8,161.7 624.3,155.6M623.0,212.4 630.7,210.7M630.7,210.7 631.9,208.8M631.9,208.8 631.3,207.1M631.3,207.1 627.4,201.9M627.4,201.9 623.3,200.8M621.7,268.8 622.5,271.3M622.5,271.3 626.5,273.4M626.5,273.4 628.3,271.2M628.3,271.2 625.7,267.5M625.7,267.5 622.2,266.5M623.0,276.4 621.0,273.5M621.0,273.5 618.8,273.2M621.0,273.5 622.5,271.3M622.4,163.9 627.9,162.9M626.2,275.0 626.5,273.4M625.7,267.5 628.8,264.5M628.8,264.5 625.4,261.2M625.4,261.2 622.9,262.1M622.9,262.1 621.5,263.7M621.4,243.3 626.4,242.0M626.4,242.0 626.8,240.7M626.8,240.7 621.3,241.3M626.8,240.7 627.5,238.6M627.5,238.6 624.2,235.5M622.9,262.1 622.1,258.0M621.6,245.8 625.4,246.4M625.4,246.4 626.8,244.3M626.8,244.3 626.4,242.0M625.4,261.2 626.8,259.3M626.8,259.3 624.1,255.5M625.6,230.9 628.9,229.0M628.9,229.0 630.1,226.2M630.1,226.2 630.0,225.7M630.0,225.7 623.9,222.3M621.3,249.8 625.6,249.7M625.6,249.7 625.9,249.4M625.9,249.4 625.4,246.4M633.2,273.2 630.5,270.9M630.5,270.9 628.3,271.2M625.8,178.0 629.1,177.0M629.1,177.0 633.1,169.4M631.9,168.9 625.8,170.0M627.5,238.6 630.3,238.4M630.3,238.4 633.0,236.2M633.0,236.2 632.8,233.1M632.8,233.1 628.9,229.0M624.1,254.8 625.1,254.0M625.1,254.0 625.6,249.7M626.8,244.3 629.9,245.7M629.9,245.7 633.0,245.1M633.0,245.1 633.3,243.6M633.3,243.6 630.3,238.4M626.8,259.3 629.1,258.7M629.1,258.7 630.1,256.6M630.1,256.6 629.8,254.6M629.8,254.6 629.5,254.3M629.5,254.3 625.1,254.0M629.5,254.3 628.6,249.7M628.6,249.7 628.6,249.7M628.6,249.7 625.9,249.4M625.2,217.7 629.7,217.9M629.7,217.9 631.6,215.8M631.6,215.8 630.7,210.7M624.9,193.3 632.3,191.6M632.3,191.6 632.6,190.9M632.6,190.9 630.7,185.3M630.7,185.3 626.0,184.0M673.9,173.7 678.4,172.5M678.4,172.5 678.6,170.1M628.8,264.5 629.3,264.4M629.3,264.4 629.9,263.7M629.9,263.7 629.8,259.6M629.8,259.6 629.1,258.7M630.5,270.9 631.9,267.9M631.9,267.9 629.3,264.4M630.0,225.7 631.4,222.3M631.4,222.3 629.7,217.9M628.6,249.7 629.9,245.7M630.7,185.3 633.6,182.9M633.6,182.9 634.9,180.2M634.9,180.2 629.1,177.0M629.8,254.6 632.6,253.0M632.6,253.0 632.8,252.7M632.8,252.7 632.5,249.7M632.5,249.7 628.6,249.7M632.8,233.1 634.7,231.8M634.7,231.8 635.2,227.1M635.2,227.1 630.1,226.2M627.4,201.9 632.7,199.1M632.7,199.1 633.1,193.2M633.1,193.2 632.3,191.6M631.4,222.3 633.4,221.8M633.4,221.8 636.2,216.7M636.2,216.7 631.6,215.8M632.5,249.7 634.2,247.5M634.2,247.5 634.1,247.1M634.1,247.1 633.0,245.1M629.9,263.7 633.9,262.7M633.9,262.7 634.4,261.2M634.4,261.2 629.8,259.6M636.2,216.7 637.4,216.5M637.4,216.5 637.8,214.8M637.8,214.8 635.2,209.3M635.2,209.3 631.9,208.8M633.3,243.6 635.0,242.8M635.0,242.8 636.7,240.9M636.7,240.9 636.5,238.5M636.5,238.5 635.5,236.8M635.5,236.8 633.0,236.2M634.4,261.2 635.8,259.9M635.8,259.9 636.3,258.1M636.3,258.1 636.3,258.0M636.3,258.0 630.1,256.6M636.3,258.0 636.4,257.2M636.4,257.2 632.6,253.0M632.6,190.9 635.8,189.5M635.8,189.5 636.7,186.3M636.7,186.3 633.6,182.9M631.9,267.9 634.2,266.8M634.2,266.8 634.8,265.6M634.8,265.6 633.9,262.7M632.8,252.7 636.8,252.1M636.8,252.1 636.9,251.7M636.9,251.7 635.5,248.2M635.5,248.2 634.2,247.5M634.9,180.2 636.7,179.4M636.7,179.4 638.3,174.7M638.3,174.7 633.2,169.3M636.3,258.1 641.3,258.7M641.3,258.7 642.8,255.7M642.8,255.7 642.5,253.5M642.5,253.5 637.7,254.5M637.7,254.5 636.4,257.2M636.7,273.1 637.2,270.1M637.2,270.1 634.2,266.8M634.8,265.6 639.8,265.0M639.8,265.0 640.2,264.4M640.2,264.4 635.8,259.9M635.2,227.1 635.5,227.0M635.5,227.0 638.1,223.9M638.1,223.9 637.5,223.0M637.5,223.0 633.4,221.8M631.3,207.1 636.8,202.3M636.8,202.3 636.9,200.5M636.9,200.5 636.8,200.3M636.8,200.3 632.7,199.1M634.1,247.1 638.3,244.8M638.3,244.8 638.3,244.3M638.3,244.3 635.0,242.8M636.7,186.3 640.4,185.0M640.4,185.0 641.5,183.2M641.5,183.2 636.7,179.4M636.8,200.3 639.7,196.2M639.7,196.2 639.5,195.5M639.5,195.5 633.1,193.2M639.5,195.5 639.5,195.4M639.5,195.4 638.2,190.2M638.2,190.2 635.8,189.5M637.7,254.5 636.8,252.1M635.2,209.3 638.8,207.4M638.8,207.4 636.8,202.3M637.5,223.0 638.1,217.2M638.1,217.2 637.4,216.5M646.6,274.5 645.1,270.1M645.1,270.1 643.2,270.4M643.2,270.4 639.1,275.2M635.5,236.8 638.9,234.6M638.9,234.6 638.3,231.5M638.3,231.5 634.7,231.8M638.3,231.5 639.0,230.2M639.0,230.2 635.5,227.0M635.5,248.2 635.5,248.2M635.5,248.2 638.4,247.2M638.4,247.2 638.8,245.8M638.8,245.8 638.3,244.8M637.2,270.1 639.8,267.8M639.8,267.8 639.8,265.0M638.8,207.4 641.1,207.6M641.1,207.6 641.7,207.4M641.7,207.4 643.2,205.0M643.2,205.0 642.7,202.6M642.7,202.6 636.9,200.5M639.0,230.2 640.1,229.7M640.1,229.7 640.9,226.9M640.9,226.9 639.1,224.1M639.1,224.1 638.1,223.9M637.8,214.8 640.4,212.9M640.4,212.9 641.1,207.6M638.3,244.3 639.5,243.1M639.5,243.1 639.5,242.4M639.5,242.4 638.9,241.7M638.9,241.7 636.7,240.9M638.9,234.6 641.5,235.6M641.5,235.6 642.9,234.9M642.9,234.9 642.5,230.9M642.5,230.9 640.1,229.7M640.2,264.4 640.4,264.3M640.4,264.3 641.6,259.2M641.6,259.2 641.3,258.7M642.5,253.5 642.5,253.5M642.5,253.5 640.4,250.1M640.4,250.1 636.9,251.7M640.4,250.1 640.4,250.0M640.4,250.0 640.1,249.8M640.1,249.8 635.5,248.2M643.2,270.4 639.8,267.8M638.1,217.2 641.8,218.2M641.8,218.2 644.2,214.9M644.2,214.9 643.8,213.9M643.8,213.9 640.4,212.9M641.5,183.2 642.3,183.1M646.5,175.9 643.8,173.5M643.8,173.5 638.3,174.7M638.2,190.2 640.4,189.1M640.4,189.1 640.4,185.0M643.8,173.5 644.6,165.6M638.9,241.7 639.7,239.7M639.7,239.7 637.9,238.6M637.9,238.6 636.5,238.5M638.8,245.8 640.1,245.8M640.1,245.8 640.5,245.6M640.5,245.6 640.1,243.5M640.1,243.5 639.5,243.1M639.1,224.1 643.5,221.1M643.5,221.1 641.8,218.2M640.1,249.8 638.8,247.4M638.8,247.4 638.4,247.2M639.5,195.4 643.2,191.3M643.2,191.3 643.2,190.6M643.2,190.6 640.4,189.1M638.8,247.4 640.4,247.1M640.4,247.1 640.1,245.8M639.7,239.7 641.0,239.2M641.0,239.2 641.2,236.9M641.2,236.9 637.9,238.6M641.2,236.9 641.4,236.3M641.4,236.3 641.5,235.6M642.7,202.6 643.8,200.3M643.8,200.3 640.8,196.6M640.8,196.6 639.7,196.2M640.8,196.6 645.4,195.3M645.4,195.3 645.7,194.2M645.7,194.2 643.2,191.3M640.4,250.0 641.9,248.1M641.9,248.1 641.9,248.1M641.9,248.1 640.4,247.1M645.1,270.1 645.2,269.9M645.2,269.9 645.5,266.2M645.5,266.2 643.8,264.5M643.8,264.5 640.4,264.3M639.5,242.4 642.6,241.0M642.6,241.0 641.0,239.2M640.1,243.5 642.1,244.1M642.1,244.1 642.9,241.1M642.9,241.1 642.6,241.0M642.9,241.1 643.2,241.0M643.2,241.0 643.7,239.6M643.7,239.6 643.7,239.1M643.7,239.1 641.4,236.3M643.8,213.9 644.7,210.1M644.7,210.1 641.7,207.4M642.5,253.5 644.6,252.4M644.6,252.4 645.0,249.8M645.0,249.8 641.9,248.1M641.9,248.1 642.8,246.2M642.8,246.2 642.3,245.6M642.3,245.6 640.5,245.6M642.3,245.6 642.2,244.2M642.2,244.2 642.1,244.1M640.9,226.9 644.9,226.4M644.9,226.4 645.6,221.9M645.6,221.9 643.5,221.1M643.2,190.6 646.5,187.7M646.5,187.7 646.5,185.3M642.8,255.7 646.2,257.5M646.2,257.5 648.3,254.9M648.3,254.9 647.6,253.4M647.6,253.4 644.6,252.4M643.8,264.5 645.2,261.1M645.2,261.1 645.1,260.5M645.1,260.5 641.6,259.2M642.8,246.2 643.5,246.2M643.5,246.2 644.6,243.8M644.6,243.8 644.6,243.7M644.6,243.7 642.2,244.2M643.2,205.0 646.6,204.9M646.6,204.9 648.6,202.3M648.6,202.3 646.5,199.2M646.5,199.2 643.8,200.3M644.6,243.7 644.5,243.0M644.5,243.0 643.5,241.1M643.5,241.1 643.2,241.0M642.5,230.9 646.4,229.0M646.4,229.0 644.9,226.4M645.6,221.9 648.6,220.9M648.6,215.8 644.2,214.9M643.7,239.1 645.1,235.3M645.1,235.3 642.9,234.9M645.7,194.2 650.2,192.2M650.2,192.2 650.1,191.4M650.1,191.4 646.5,187.7M645.5,266.2 648.0,265.3M648.0,265.3 648.2,262.5M648.2,262.5 645.2,261.1M645.0,249.8 646.2,248.2M646.2,248.2 646.0,247.1M646.0,247.1 643.5,246.2M646.4,229.0 646.9,229.3M645.1,260.5 646.4,258.9M646.4,258.9 646.2,257.5M646.5,199.2 646.8,198.4M646.8,198.4 645.4,195.3M646.8,198.4 651.1,196.7M651.1,196.7 650.7,193.1M650.7,193.1 650.2,192.2M643.7,239.6 645.2,238.7M653.4,270.7 651.3,269.7M651.3,269.7 645.2,269.9M643.5,241.1 645.9,240.8M644.6,243.8 645.5,244.3M645.5,244.3 646.8,242.8M646.6,242.5 644.5,243.0M646.2,246.9 646.4,245.8M646.4,245.8 646.3,245.6M646.3,245.6 645.5,244.3M646.0,247.1 646.2,246.9M646.2,246.9 650.2,246.0M650.2,246.0 650.4,245.6M648.8,244.4 646.4,245.8M648.2,262.5 651.2,260.1M651.2,260.1 646.4,258.9M649.8,210.2 644.7,210.1M647.6,253.4 648.5,252.2M648.5,252.2 647.4,248.7M647.4,248.7 646.2,248.2M646.3,245.6 647.3,243.2M650.1,209.1 646.6,204.9M648.6,202.3 653.6,202.5M653.6,202.5 653.2,198.6M653.2,198.6 651.1,196.7M648.1,185.3 654.0,187.9M654.0,187.9 654.4,187.7M654.4,187.7 654.6,185.7M650.1,191.4 654.0,187.9M654.5,203.8 653.6,202.5M651.3,269.7 648.7,265.5M648.7,265.5 648.0,265.3M647.4,248.7 649.9,248.5M649.9,248.5 650.2,246.0M651.2,260.1 651.8,259.9M651.8,259.9 651.9,259.5M651.9,259.5 650.6,256.0M650.6,256.0 648.3,254.9M649.9,248.5 651.1,250.0M651.1,250.0 653.7,248.4M659.8,197.4 657.2,195.8M657.2,195.8 653.2,198.6M650.6,256.0 653.2,253.2M653.2,253.2 651.1,250.7M651.1,250.7 648.5,252.2M648.7,265.5 654.0,263.2M654.0,263.2 651.8,259.9M651.1,250.7 651.1,250.0M656.2,256.4 651.9,259.5M654.0,263.2 657.1,265.2M650.7,193.1 656.7,193.2M656.7,193.2 657.3,189.8M657.3,189.8 657.2,189.6M657.2,189.6 654.4,187.7M653.2,253.2 654.5,253.2M657.2,195.8 657.0,194.0M657.0,194.0 656.7,193.2M667.9,189.1 663.6,187.8M663.6,187.8 663.1,190.0M663.1,190.0 664.1,191.7M657.2,189.6 660.5,185.7M661.8,194.3 660.5,193.2M660.5,193.2 657.0,194.0M660.5,193.2 660.6,190.5M660.6,190.5 657.3,189.8M663.4,185.7 663.6,187.8M672.6,186.3 663.4,185.7M663.4,185.7 663.1,185.4M660.6,190.5 663.1,190.0M673.2,185.9 672.8,184.6M672.8,184.6 669.3,181.0M679.8,181.1 678.3,178.8M678.3,178.8 675.6,178.6M675.6,178.6 672.8,184.6M675.6,178.6 674.7,176.4M674.7,176.4 673.6,175.4M674.7,176.4 678.8,174.9M678.8,174.9 679.4,174.2M679.4,174.2 678.4,172.5M679.4,174.2 681.8,174.7M678.8,174.9 678.7,178.3M678.7,178.3 681.9,177.0M678.7,178.3 678.3,178.8M538.9,310.9 557.7,310.9M557.7,304.3 557.7,325.8M566.7,304.3 566.7,311.9 584.5,311.9 584.5,304.3M584.5,311.9 590.5,313.8M557.7,314.8 576.6,314.8M571.6,311.9 571.6,325.8M576.6,314.8 581.5,314.8 581.5,320.8 577.6,325.8M539.9,320.8 557.7,320.8M544.8,325.8 577.6,325.8M556.7,325.8 556.7,336.7M566.7,325.8 566.7,333.7 574.6,334.7M556.7,336.7 556.7,364.4M538.9,347.6 546.8,348.6 556.7,354.5M534.9,358.5 544.8,363.5 556.7,363.5M556.7,357.5 571.6,354.5 577.6,358.5M571.6,364.4 556.7,364.4M549.8,363.5 549.8,375.4M564.7,364.4 563.7,370.4 561.7,375.4M535.9,375.4 562.7,375.4M576.3,256.0 576.3,275.9M585.3,256.0 585.3,277.9M591.7,255.3 591.7,278.8M598.2,247.6 598.2,280.1M567.9,263.1 605.3,263.1M567.9,269.5 605.3,269.5M591.7,259.8 605.3,259.8M591.7,252.7 605.3,252.7M595.6,247.6 595.6,263.1M601.4,247.6 601.4,263.1M598.2,275.3 605.3,275.9M567.2,279.8 560.8,283.7 554.3,288.8 547.9,294.6 542.7,296.6M555.6,292.7 567.2,287.5 577.5,283.0 579.5,281.1M569.8,287.5 569.8,305.6M578.8,283.7 578.8,305.6M587.2,281.1 587.2,305.6M593.0,281.7 593.7,294.0M545.3,270.8 554.3,269.5 557.6,266.3M544.7,275.3 555.6,274.0 567.2,275.9M542.7,280.5 554.3,279.8 557.6,278.8M554.3,269.5 555.6,274.0 554.3,279.8M547.9,283.7 554.3,283.7 560.8,283.7M540.8,287.5 547.9,287.5 554.3,288.8M547.9,283.7 547.9,294.6M543.4,289.5 543.4,305.6M555.6,294.6 555.6,305.6M562.7,289.5 562.7,305.6M555.6,299.2 569.8,296.6M550.5,257.9 557.6,252.7 567.2,254.0M557.6,252.7 560.8,245.0M567.2,254.0 580.1,255.3 580.1,245.0M550.5,257.9 556.9,265.6 567.2,268.9" fill="none" stroke="#2a2a2c" stroke-width="0.42"/>
<polyline points="611.1,145.4 611.1,159.5 604,169.5 602.5,171.8" fill="none" stroke="#2a2a2c" stroke-width="0.9"/>
<polyline points="596,172.5 618.2,171.8 618.2,190.5 637,190.5" fill="none" stroke="#2a2a2c" stroke-width="0.9"/>
<polyline points="611.1,159.5 620,165.5 630,172.5 640,180" fill="none" stroke="#2a2a2c" stroke-width="0.9"/>
<polyline points="596,172.5 595,185 592.5,190.5 592,203" fill="none" stroke="#2a2a2c" stroke-width="0.9"/>
<polyline points="567.4,275 567.4,255.7 592.4,255 592.4,247.4 605.6,247.4" fill="none" stroke="#2a2a2c" stroke-width="0.9"/>
<polyline points="605.6,242.5 605.6,294.5" fill="none" stroke="#2a2a2c" stroke-width="0.9"/>
<polyline points="538.9,304.5 593,304.5" fill="none" stroke="#2a2a2c" stroke-width="0.9"/>
<polyline points="574.5,222.8 592,222.5 592.4,255" fill="none" stroke="#2a2a2c" stroke-width="0.9"/>
<polyline points="574.5,222.8 575,233 578.5,240 580.5,248 579.5,255.3" fill="none" stroke="#2a2a2c" stroke-width="0.9"/>
<polyline points="555,227 560,222.8 574.5,222.8" fill="none" stroke="#2a2a2c" stroke-width="0.9"/>
<polyline points="586.5,205.5 592,203 608.5,204.2 612,208.5 616.5,210 615,220 617.3,232 610.5,241.5 605.6,242.5" fill="none" stroke="#2a2a2c" stroke-width="0.9"/>
<polyline points="586.5,205.5 585.5,215 592,222.5" fill="none" stroke="#2a2a2c" stroke-width="0.9"/>
<polyline points="605.6,242.5 618.5,242 626,235 633.5,233" fill="none" stroke="#2a2a2c" stroke-width="0.9"/>
<polyline points="635.5,190.5 635.5,209 629.5,218 627,223.5 627,230.5 634.5,236 644,239.5" fill="none" stroke="#2a2a2c" stroke-width="0.9"/>
<polyline points="635.5,209 642.5,208 649,212" fill="none" stroke="#2a2a2c" stroke-width="0.9"/>
<polyline points="615,190.5 616,210" fill="none" stroke="#2a2a2c" stroke-width="0.9"/>
<polyline points="560.4,189.2 567,191.5 576,193 578.5,197 586,202 586.5,205.5" fill="none" stroke="#2a2a2c" stroke-width="0.9"/>
<polyline points="561.5,201 569.5,205.5 575.5,214 577,221 574.5,222.8" fill="none" stroke="#2a2a2c" stroke-width="0.9"/>
<polyline points="547,258.5 553.5,264.5 564,270 567.4,272" fill="none" stroke="#2a2a2c" stroke-width="0.9"/>
<polyline points="567.4,272 567.4,279 553,289 546,294 541,296" fill="none" stroke="#2a2a2c" stroke-width="0.9"/>
<polyline points="567.4,272 577,277.5 588,278.5 597,280 605.6,284" fill="none" stroke="#2a2a2c" stroke-width="0.9"/>
<polyline points="563.9,166.25 579,167 577.5,172.5 583,175.5 595.5,174 593.5,187 585.5,188.5 583,175.5" fill="none" stroke="#2a2a2c" stroke-width="0.9"/>
<polyline points="540.3,340.8 573.6,340.8" fill="none" stroke="#2a2a2c" stroke-width="0.9"/>
</g>
<polygon points="595.6,307.4 600.3,307.9 600.7,309.8 596.3,309.6" fill="#48494d" stroke="#2a2a2c" stroke-width="0.4"/>
<polygon points="581.9,140.6 584.7,143.3 589.6,142.6 594.4,143.3 597.2,147.5 599.3,143.3 602.1,141.7 608.3,141.7 611.8,146.1 615.3,149.6 622.2,154.4 629.2,158.6 636.1,162.1 643.1,164.9 648.6,167.6 650.0,169.7 647.9,173.9 645.1,178.0 642.4,182.9 641.0,185.7 647.2,185.3 655.6,185.7 662.5,185.7 666.7,183.6 670.8,179.4 673.6,175.3 674.3,171.8 676.4,169.7 679.9,170.4 681.8,174.5 682.0,178.0 679.2,181.9 674.0,185.4 669.5,188.2 665.3,190.6 662.5,193.3 659.7,197.5 656.9,201.0 653.5,205.0 650.0,209.2 648.6,214.7 648.6,221.7 647.9,227.2 645.1,232.8 645.1,238.3 646.5,242.5 650.0,245.3 653.5,248.0 654.9,251.5 654.2,254.3 656.9,257.1 659.0,259.9 658.3,263.3 655.6,267.5 653.0,271.3 645.0,275.3 631.0,278.0 625.0,279.5 618.0,280.2 615.3,279.9 616.7,284.7 615.3,290.3 613.9,294.4 608.3,295.8 602.8,295.1 595.8,294.4 593.0,297.2 593.0,302.8 597.2,304.9 601.4,304.9 604.2,305.6 604.2,309.0 600.0,310.4 595.8,311.8 591.7,316.0 591.0,322.2 588.9,327.1 580.6,330.6 576.4,333.3 573.6,337.5 573.6,340.0 578.3,343.5 585.3,346.2 588.0,349.0 586.0,353.2 579.7,357.4 575.6,361.5 572.1,365.7 567.9,369.2 564.4,371.9 561.7,376.1 560.3,380.3 563.0,384.4 566.5,388.3 564.4,387.9 557.5,386.5 547.8,385.6 539.4,384.7 536.7,381.0 535.3,375.8 529.7,375.4 526.9,371.2 526.9,365.7 531.1,362.9 535.3,358.0 534.6,353.9 536.0,349.7 539.4,345.6 540.3,340.0 540.3,336.1 543.0,330.6 538.9,326.4 540.3,320.8 538.9,315.3 537.5,308.3 538.9,304.9 538.9,298.6 539.6,291.7 541.7,286.1 543.8,280.6 545.8,275.0 545.1,270.3 545.1,264.7 547.2,260.6 550.0,256.4 549.3,250.8 551.4,245.3 553.5,239.7 553.5,232.8 552.1,227.2 550.0,221.7 550.0,216.1 552.8,210.6 553.5,205.0 554.9,198.9 556.9,194.7 560.4,189.2 561.8,184.3 563.9,180.8 563.2,175.3 564.6,170.4 563.9,166.2 566.0,162.8 570.1,160.0 574.3,157.2 575.0,151.0 576.4,146.8 579.9,143.3" fill="none" stroke="#2a2a2c" stroke-width="0.7"/>
</g>
<g id="inset1">
<clipPath id="ci1"><rect x="305" y="135" width="178.3" height="160.10000000000002"/></clipPath>
<g clip-path="url(#ci1)">
<polygon points="305.0,135.0 404.3,135.0 402.5,141.0 400.7,146.0 395.4,151.4 389.6,152.2 386.0,157.5 391.0,165.7 388.0,176.0 392.9,185.4 398.6,192.5 407.3,201.6 413.2,209.0 420.4,214.8 425.7,219.8 436.4,222.5 443.6,226.0 450.7,227.0 457.9,233.2 466.8,233.2 473.9,238.6 483.5,245.0 483.5,296.0 305.0,296.0" fill="#f5dfcb"/>
<polygon points="408.5,141 411,139.2 414,141.5 416,145 413.5,146.8 410,145.5" fill="#f5dfcb"/>
<polygon points="418,139.5 419.6,139.5 419.6,142 418,142" fill="#f5dfcb"/>
<polygon points="390.5,159 393,160.5 393.5,166 391.5,165.5" fill="#f5dfcb"/>
<polyline points="320.5,135.4 333,150 339.3,160 335,175 333.9,172" fill="none" stroke="#e6ccb4" stroke-width="0.6"/>
<polyline points="333,150 345,138 352,135" fill="none" stroke="#e6ccb4" stroke-width="0.6"/>
<polyline points="361,135 362,142 367.9,152.3 380,152 390,155" fill="none" stroke="#e6ccb4" stroke-width="0.6"/>
<polyline points="367.9,152.3 364.3,164.8 375.4,182" fill="none" stroke="#e6ccb4" stroke-width="0.6"/>
<polyline points="305,190 312.5,180 320,186 326,178 333.9,172" fill="none" stroke="#e6ccb4" stroke-width="0.6"/>
<polyline points="305,212 315,205 322,196 332,190 339.3,198.75" fill="none" stroke="#e6ccb4" stroke-width="0.6"/>
<polyline points="320,186 326,196" fill="none" stroke="#e6ccb4" stroke-width="0.6"/>
<polyline points="312.5,218 320,210 330,205 338.6,201.8" fill="none" stroke="#e6ccb4" stroke-width="0.6"/>
<polyline points="339.6,210.7 330,220 332.1,233.2" fill="none" stroke="#e6ccb4" stroke-width="0.6"/>
<polyline points="350.9,252 357,243 362.9,242.9" fill="none" stroke="#e6ccb4" stroke-width="0.6"/>
<polyline points="379,255.4 371,262 377,272 372,285 380,294.7" fill="none" stroke="#e6ccb4" stroke-width="0.6"/>
<polyline points="371,262 350.9,252" fill="none" stroke="#e6ccb4" stroke-width="0.6"/>
<polyline points="418.2,255.4 408,262 400,258 393,266 398,275 393.6,288.6" fill="none" stroke="#e6ccb4" stroke-width="0.6"/>
<polyline points="377,272 393,266" fill="none" stroke="#e6ccb4" stroke-width="0.6"/>
<polyline points="425.4,219.6 433,231 441,233.2 434.6,258.2" fill="none" stroke="#e6ccb4" stroke-width="0.6"/>
<polyline points="433,231 427.1,239.3" fill="none" stroke="#e6ccb4" stroke-width="0.6"/>
<polyline points="461.4,242 470,250 482.9,253.75" fill="none" stroke="#e6ccb4" stroke-width="0.6"/>
<polyline points="441,233.2 450.7,236.8" fill="none" stroke="#e6ccb4" stroke-width="0.6"/>
<polygon points="305,135 320.8,135.4 311.3,143.7 325.6,164.3 328.5,164.3 334,172.3 331.5,171.7 325.6,166 313.7,176.4 311.3,179.4 305,172.9" fill="#fff"/>
<polygon points="305,223.4 312.5,218 332.1,233.2 342.9,242.1 350.9,252 333.9,268.9 340.2,278.75 337.5,281.4 351.8,294.8 353,296 305,296" fill="#fff"/>
<polygon points="483.6,253.75 456,281.4 445.4,290.4 441.8,287.7 447,281.4 437.3,272.5 428.4,264.5 434.6,258.2 430.2,253.75 420.4,263.6 407.9,277.9 393.6,288.6 400.7,294.8 402,296 483.6,296" fill="#fff"/>
<polygon points="441,233.2 448.5,227 450.7,227 457.9,233.2 466,234 461.4,242 450.7,236.8" fill="#fff"/>
<polyline points="305,200 305,200" fill="none" stroke="#e4e4e4" stroke-width="0.6"/>
<polyline points="305,246 318,258 312,264 333.9,268.9" fill="none" stroke="#e4e4e4" stroke-width="0.6"/>
<polyline points="318,258 330,247" fill="none" stroke="#e4e4e4" stroke-width="0.6"/>
<polyline points="340.2,278.75 330,288 322,280 312,290 305,284" fill="none" stroke="#e4e4e4" stroke-width="0.6"/>
<polyline points="428.4,264.5 440,276" fill="none" stroke="#e4e4e4" stroke-width="0.6"/>
<polyline points="456,281.4 468,294" fill="none" stroke="#e4e4e4" stroke-width="0.6"/>
<polyline points="407.9,277.9 420,290 415,294.7" fill="none" stroke="#e4e4e4" stroke-width="0.6"/>
<polygon points="336.6,157.7 342,152.3 350.9,154.1 350,147.9 367.9,152.3 364.3,164.8 360.7,167.5 358.9,172.9 368.75,187.1 362.5,189.8 351.8,181.8 356.25,177.3 352.7,172 348.2,172.9" fill="#fd8d3c"/>
<polygon points="376.3,183.5 387.4,178.7 389.3,182 388.2,185.1 382.6,185.9 381.8,190.6 384.2,193.8 382.5,200 379,206.4 374.7,204.1 372.3,199.4 369.1,193.8 371.5,188" fill="#fd8d3c"/>
<polygon points="339,198.6 346.9,188.25 352.5,193.8 360.4,201 362.8,205.7 366.7,208.1 370.7,204.1 374.7,204.1 379,206.4 369.1,216.8 366.7,220.8 360.4,224.8 356.4,225.6 350.9,220.8 344.5,216 339.8,209.7" fill="#fd8d3c"/>
<polygon points="371.8,232.1 379,221.4 389.6,214.3 398.6,208.9 405.7,207.1 407.3,201.6 413.2,209 420.4,214.8 425.4,219.6 417.7,226 425.7,231.4 427.5,238.6 420.4,245.7 424,250.2 416,257.3 411.4,246.6 412.5,244 411.4,240.4 399.8,244 397,241.25 389.6,246.4 380.4,257.3 373.2,250.2 373.6,246.4 368.75,241.25" fill="#fd8d3c"/>
<polyline points="379,221.4 384,232 380,246" fill="none" stroke="#e57a2c" stroke-width="0.5"/>
<polyline points="389.6,214.3 394,228 397,241.25" fill="none" stroke="#e57a2c" stroke-width="0.5"/>
<polyline points="398.6,208.9 404,222 411.4,240.4" fill="none" stroke="#e57a2c" stroke-width="0.5"/>
<polyline points="404,222 417.7,226" fill="none" stroke="#e57a2c" stroke-width="0.5"/>
<polyline points="394,228 404,222" fill="none" stroke="#e57a2c" stroke-width="0.5"/>
<polygon points="353.25,233.5 358.8,231.1 356.4,225.6 360.4,224.8 366.7,220.8 369.1,216.8 377.9,205.7 382.6,207.3 390.6,215 382.6,222.4 376.3,227.1 372.3,234.3 369.1,239.8 363.6,243.8 358.8,239.8" fill="#c14002"/>
<polygon points="384.3,194.6 391.4,191 398.6,193 407.3,201.6 405.7,207.1 398.6,208.9 389.6,214.3 383.6,207.1 382.5,200" fill="#7f2704"/>
</g>
<rect x="304.5" y="134.5" width="179.3" height="161.10000000000002" fill="none" stroke="#2c2c2e" stroke-width="1"/>
</g>
<g id="inset2">
<clipPath id="ci2"><rect x="691" y="137.6" width="175.7" height="144.9"/></clipPath>
<g clip-path="url(#ci2)">
<polygon points="691.0,137.6 778.5,137.6 779.8,149.5 782.9,159.0 786.1,166.9 785.6,176.3 781.3,182.7 774.6,185.9 778.1,192.2 773.3,198.6 774.0,203.0 778.2,205.0 782.9,209.7 790.8,216.0 797.9,223.2 808.2,226.3 813.1,228.8 825.8,231.2 838.5,239.1 843.2,241.5 854.4,247.0 866.7,255.8 866.7,282.5 691.0,282.5" fill="#fff" stroke="#111" stroke-width="0.6"/>
<polygon points="691.0,172.5 700.9,166.1 704.8,163.7 702.5,156.6 708.8,153.4 706.4,147.1 713.6,145.5 726.3,147.9 735.8,151.0 742.1,156.6 750.0,156.6 758.0,163.0 770.7,162.2 780.2,160.6 784.0,161.4 786.1,166.9 785.6,176.3 781.3,182.7 774.6,185.9 778.1,192.2 773.3,198.6 774.0,203.0 778.2,205.0 782.9,209.7 790.8,216.0 797.9,223.2 808.2,226.3 813.1,228.8 825.8,231.2 838.5,239.1 839.3,240.7 817.9,259.8 824.2,264.5 813.1,274.0 803.6,279.6 798.8,278.0 795.6,279.6 785.0,268.5 777.0,264.5 767.5,273.2 770.7,275.6 767.5,281.2 756.4,274.8 751.7,268.5 746.9,266.1 739.0,273.2 723.0,282.5 719.9,282.5 702.5,275.6 699.3,271.7 691.0,271.7 691.0,210.6 702.5,205.0 707.2,201.8 713.6,193.1 700.9,182.0 691.0,188.3" fill="#fdd0a2" stroke="#3b2a1e" stroke-width="0.5"/>
<polyline points="691,143 700,140.5 706,141.5 707,137.6" fill="none" stroke="#444" stroke-width="0.5"/>
<polyline points="713.6,145.5 712,137.6" fill="none" stroke="#444" stroke-width="0.5"/>
<polyline points="866.7,262 855,268 850,275 843,272 838,280 830,276 826,282.5" fill="none" stroke="#444" stroke-width="0.5"/>
<polyline points="798.8,282.5 812,276" fill="none" stroke="#444" stroke-width="0.5"/>
<polyline points="843,272 848,266 856,263 862,258" fill="none" stroke="#444" stroke-width="0.5"/>
<polygon points="727.9,195.1 734.2,191.5 737,193 740.6,187.2 748.5,182 753.3,182.4 759.6,185.2 770.8,185.6 773.1,187.6 774.6,185.9 778.1,192.2 773.3,198.6 774,203 778.2,205 782.9,209.7 790.8,216 797.9,223.2 808.25,226.3 813.1,228.8 809.9,232.8 821.6,238 825.8,231.2 838.5,239.1 839.3,240.7 817.9,259.8 813.1,264.5 809.1,263 814.7,258.2 801.2,251 804.4,246.3 800.4,243.9 794,247.9 790.9,243.1 789.3,236.7 780.3,238 766,244.4 759.7,236.5 753.3,231.7 743.8,222.2 742.2,212.6 735.8,206.3" fill="#fd8d3c" stroke="#3b2a1e" stroke-width="0.5"/>
<polygon points="755.9,212.9 759.8,210.5 763,213.7 759,217.6" fill="#fdd0a2" stroke="#3b2a1e" stroke-width="0.4"/>
<polygon points="751.9,231.9 754.3,227.1 759,225.6 763.8,219.2 771,215.2 771,212.1 775.7,207.3 778.2,205 782.9,209.7 790.8,216 797.9,223.2 790.8,227.1 786.8,222.4 782,216 778.1,218.4 775.7,220.8 771.7,224 765.4,228.7 760.6,235.1 756.7,238.25" fill="#7f2704" stroke="#2b1208" stroke-width="0.4"/>
<polygon points="775.7,220.8 778.1,218.4 782,216 786.8,222.4 790.8,227.1 787.6,230.3 790,233.5 782,236.7 778.1,231.1 774.9,224.8" fill="#c14002" stroke="#3b1a08" stroke-width="0.4"/>
<polygon points="765.4,205.7 769.4,204.1 772.5,208.1 769.4,211.3" fill="#c14002" stroke="#3b1a08" stroke-width="0.4"/>
<polygon points="765.4,200.2 770.2,197.8 772.5,201 767.8,204.1" fill="#fdd0a2" stroke="#3b2a1e" stroke-width="0.4"/>
<polyline points="771,215.2 774.1,217.6 778.1,218.4" fill="none" stroke="#2b1208" stroke-width="0.4"/>
<polyline points="782,216 786,217.6 790.8,216" fill="none" stroke="#2b1208" stroke-width="0.4"/>
<polyline points="786.8,222.4 790.8,219.5 794.5,219.8" fill="none" stroke="#2b1208" stroke-width="0.4"/>
<polyline points="778.1,231.1 782.5,227.5 787.6,230.3" fill="none" stroke="#3b1a08" stroke-width="0.4"/>
<polyline points="782.5,227.5 779.5,222.5" fill="none" stroke="#3b1a08" stroke-width="0.4"/>
<polygon points="781.9,236.5 788.3,234.9 789.3,236.7 780.3,238" fill="#fd8d3c"/>
<polyline points="706.4,147.1 708.8,153.4 702.5,156.6 704.8,163.7 708.8,169.3 707.2,174.9 700.9,178 700.9,182" fill="none" stroke="#3b2a1e" stroke-width="0.5"/>
<polyline points="708.8,169.3 723.1,178 732.6,172.5 734.2,158.2 742.1,156.6" fill="none" stroke="#3b2a1e" stroke-width="0.5"/>
<polyline points="723.1,178 732.6,190.7 734.2,191.5" fill="none" stroke="#3b2a1e" stroke-width="0.5"/>
<polyline points="707.2,174.9 723.1,178" fill="none" stroke="#3b2a1e" stroke-width="0.5"/>
<polyline points="748.5,167.7 758,163" fill="none" stroke="#3b2a1e" stroke-width="0.5"/>
<polyline points="748.5,167.7 753.25,176.4 748.5,182" fill="none" stroke="#3b2a1e" stroke-width="0.5"/>
<polyline points="732.6,172.5 740.6,181 748.5,182" fill="none" stroke="#3b2a1e" stroke-width="0.5"/>
<polyline points="691,235.2 697.7,233.6 700.9,236 716.7,228.8 723.1,223.25" fill="none" stroke="#3b2a1e" stroke-width="0.5"/>
<polyline points="704,205 710,215 716.7,228.8" fill="none" stroke="#3b2a1e" stroke-width="0.5"/>
<polyline points="713.6,233.6 723.1,223.25 731,226.4 740.6,218.5 732.6,211.3 727.9,213 720.7,216.9 723.1,223.25" fill="none" stroke="#3b2a1e" stroke-width="0.5"/>
<polyline points="713.6,233.6 724.7,243 731,247.9 737.4,252.6 750,242.3 745.3,236.7 740.6,232 731,226.4" fill="none" stroke="#3b2a1e" stroke-width="0.5"/>
<polyline points="724.7,243 710.4,251.8 691,263.7" fill="none" stroke="#3b2a1e" stroke-width="0.5"/>
<polyline points="737.4,252.6 746.9,266.1" fill="none" stroke="#3b2a1e" stroke-width="0.5"/>
<polyline points="750,242.3 757.2,238.3" fill="none" stroke="#3b2a1e" stroke-width="0.5"/>
<polyline points="766,249.4 769,260.6 777,264.5" fill="none" stroke="#3b2a1e" stroke-width="0.5"/>
<polyline points="766,249.4 773.9,243 777,244.7 785,240" fill="none" stroke="#3b2a1e" stroke-width="0.5"/>
<polyline points="759.7,236.5 766,249.4 757,256 751.7,268.5" fill="none" stroke="#3b2a1e" stroke-width="0.5"/>
<polyline points="740.6,218.5 743.8,222.2" fill="none" stroke="#3b2a1e" stroke-width="0.5"/>
<polyline points="713.6,193.1 727.9,195.1" fill="none" stroke="#3b2a1e" stroke-width="0.5"/>
<polyline points="727.9,195.1 722,203 727.9,213" fill="none" stroke="#3b2a1e" stroke-width="0.5"/>
<polyline points="742.2,212.6 748,209 746,203 751,199 748,193 753.3,189 753.3,182.4" fill="none" stroke="#3b2a1e" stroke-width="0.5"/>
<polyline points="748,209 754,212 756.5,213" fill="none" stroke="#3b2a1e" stroke-width="0.5"/>
<polyline points="751,199 758,201 764.4,204.7" fill="none" stroke="#3b2a1e" stroke-width="0.5"/>
<polyline points="758,201 760,193 759.6,185.2" fill="none" stroke="#3b2a1e" stroke-width="0.5"/>
<polyline points="760,193 768,195 774.5,196.5" fill="none" stroke="#3b2a1e" stroke-width="0.5"/>
<polyline points="768,195 766,202 770.8,207.9" fill="none" stroke="#3b2a1e" stroke-width="0.5"/>
<polyline points="743.8,222.2 750,218 754,212" fill="none" stroke="#3b2a1e" stroke-width="0.5"/>
<polyline points="750,218 756,224 753,227" fill="none" stroke="#3b2a1e" stroke-width="0.5"/>
<polyline points="762.9,214.5 767.5,216.9" fill="none" stroke="#3b2a1e" stroke-width="0.5"/>
<polyline points="759.7,236.5 764,233" fill="none" stroke="#3b2a1e" stroke-width="0.5"/>
<polyline points="767.6,228.5 772,240" fill="none" stroke="#3b2a1e" stroke-width="0.5"/>
<polyline points="775.6,223.7 777.2,231.7 776,239.5" fill="none" stroke="#3b2a1e" stroke-width="0.5"/>
<polyline points="790.9,233.6 794,230 798.8,222.5" fill="none" stroke="#3b2a1e" stroke-width="0.5"/>
<polyline points="794,230 800,236 804.4,246.3" fill="none" stroke="#3b2a1e" stroke-width="0.5"/>
<polyline points="800,236 809.9,232.8" fill="none" stroke="#3b2a1e" stroke-width="0.5"/>
<polyline points="789.3,236.7 794,247.9" fill="none" stroke="#3b2a1e" stroke-width="0.5"/>
<polyline points="779.8,262.1 795.6,251 801.2,251" fill="none" stroke="#3b2a1e" stroke-width="0.5"/>
<polyline points="795.6,251 790.9,243.1" fill="none" stroke="#3b2a1e" stroke-width="0.5"/>
<polyline points="777,264.5 779.8,262.1 776,256 780.3,251 785,240" fill="none" stroke="#3b2a1e" stroke-width="0.5"/>
<polyline points="809.9,232.8 808.25,226.3" fill="none" stroke="#3b2a1e" stroke-width="0.5"/>
<polyline points="821.6,238 810,248 804.4,246.3" fill="none" stroke="#3b2a1e" stroke-width="0.5"/>
</g>
<rect x="690.5" y="137.1" width="176.7" height="145.9" fill="none" stroke="#111" stroke-width="1"/>
</g>
<rect x="304.2" y="313.5" width="28.3" height="12.4" fill="#ffffff"/>
<text x="343.5" y="324.7" class="lg" textLength="7.9" lengthAdjust="spacingAndGlyphs">0</text>
<rect x="304.2" y="331.6" width="28.3" height="12.4" fill="#f5dfcb"/>
<text x="343.5" y="342.8" class="lg" textLength="28.4" lengthAdjust="spacingAndGlyphs">1-23</text>
<rect x="304.2" y="349.8" width="28.3" height="12.4" fill="#fb8b3a"/>
<text x="343.5" y="361.0" class="lg" textLength="40.6" lengthAdjust="spacingAndGlyphs">23-94</text>
<rect x="304.2" y="367.8" width="28.3" height="12.4" fill="#c04004"/>
<text x="343.5" y="379.0" class="lg" textLength="48" lengthAdjust="spacingAndGlyphs">94-226</text>
<rect x="304.2" y="385.9" width="28.3" height="12.4" fill="#7f2704"/>
<text x="343.5" y="397.1" class="lg" textLength="65" lengthAdjust="spacingAndGlyphs">226-2404</text>
<rect x="689" y="313.5" width="28.3" height="12.4" fill="#ffffff"/>
<text x="728" y="324.7" class="lg" textLength="7.9" lengthAdjust="spacingAndGlyphs">0</text>
<rect x="689" y="331.6" width="28.3" height="12.4" fill="#f5dfcb"/>
<text x="728" y="342.8" class="lg" textLength="28.4" lengthAdjust="spacingAndGlyphs">1-23</text>
<rect x="689" y="349.8" width="28.3" height="12.4" fill="#fb8b3a"/>
<text x="728" y="361.0" class="lg" textLength="40.6" lengthAdjust="spacingAndGlyphs">23-94</text>
<rect x="689" y="367.8" width="28.3" height="12.4" fill="#c04004"/>
<text x="728" y="379.0" class="lg" textLength="48" lengthAdjust="spacingAndGlyphs">94-226</text>
<rect x="689" y="385.9" width="28.3" height="12.4" fill="#7f2704"/>
<text x="728" y="397.1" class="lg" textLength="60.5" lengthAdjust="spacingAndGlyphs">226-3975</text>
<g id="virus">
<line x1="46.9" y1="178.0" x2="47.1" y2="169.9" stroke="#b9aeae" stroke-width="1.3"/>
<circle cx="47.1" cy="166.7" r="3.3" fill="none" stroke="#b9aeae" stroke-width="1.9"/>
<line x1="38.3" y1="180.6" x2="35.3" y2="176.2" stroke="#b9aeae" stroke-width="1.3"/>
<circle cx="33.5" cy="173.6" r="3.3" fill="none" stroke="#b9aeae" stroke-width="1.9"/>
<line x1="32.3" y1="188.9" x2="23.1" y2="186.3" stroke="#b9aeae" stroke-width="1.3"/>
<circle cx="20" cy="185.4" r="3.3" fill="none" stroke="#b9aeae" stroke-width="1.9"/>
<line x1="33.2" y1="199.6" x2="28.0" y2="202.1" stroke="#b9aeae" stroke-width="1.3"/>
<circle cx="25.1" cy="203.5" r="3.3" fill="none" stroke="#b9aeae" stroke-width="1.9"/>
<line x1="41.6" y1="207.1" x2="38.7" y2="215.0" stroke="#b9aeae" stroke-width="1.3"/>
<circle cx="37.6" cy="218" r="3.3" fill="none" stroke="#b9aeae" stroke-width="1.9"/>
<line x1="53.2" y1="206.5" x2="55.7" y2="211.7" stroke="#b9aeae" stroke-width="1.3"/>
<circle cx="57.1" cy="214.6" r="3.3" fill="none" stroke="#b9aeae" stroke-width="1.9"/>
<line x1="60.4" y1="199.1" x2="65.7" y2="201.5" stroke="#b9aeae" stroke-width="1.3"/>
<circle cx="68.6" cy="202.8" r="3.3" fill="none" stroke="#b9aeae" stroke-width="1.9"/>
<line x1="61.3" y1="189.7" x2="66.9" y2="188.5" stroke="#b9aeae" stroke-width="1.3"/>
<circle cx="70" cy="187.8" r="3.3" fill="none" stroke="#b9aeae" stroke-width="1.9"/>
<line x1="57.4" y1="182.5" x2="63.4" y2="176.5" stroke="#b9aeae" stroke-width="1.3"/>
<circle cx="65.7" cy="174.3" r="3.3" fill="none" stroke="#b9aeae" stroke-width="1.9"/>
<circle cx="46.7" cy="193" r="14.6" fill="none" stroke="#b9aeae" stroke-width="4.2"/>
<circle cx="43.2" cy="188.6" r="3.2" fill="none" stroke="#b9aeae" stroke-width="2.5"/>
<circle cx="45.6" cy="199.3" r="2.8" fill="none" stroke="#b9aeae" stroke-width="1.9"/>
<circle cx="53.2" cy="194.7" r="1.9" fill="#b9aeae" stroke="#b9aeae" stroke-width="1.4" fill-opacity="0.6"/>
<text x="24" y="239.7" font-size="12.3" font-weight="bold" fill="#b9aeae" textLength="36.3" lengthAdjust="spacingAndGlyphs">nuevo</text>
<text x="24" y="251.7" font-size="12.3" font-weight="bold" fill="#b9aeae" textLength="70" lengthAdjust="spacingAndGlyphs">coronavirus</text>
<text x="24" y="263.5" font-size="9.6" fill="#b9aeae" textLength="38.3" lengthAdjust="spacingAndGlyphs">COVID-19</text>
</g>
<g id="badge">
<rect x="880.3" y="54.8" width="39.3" height="156" fill="#ffffff"/>
<rect x="880.3" y="210.5" width="39.3" height="38.6" fill="#000000"/>
<g transform="translate(905.8,197) rotate(-90)">
<text x="0" y="0" font-size="18" font-weight="bold" fill="#0a0a0a" textLength="78.7" lengthAdjust="spacingAndGlyphs">Argentina</text>
<text x="81.7" y="0" font-size="18" font-weight="bold" fill="#37a9e1" textLength="45.9" lengthAdjust="spacingAndGlyphs">unida</text>
</g>
<clipPath id="cesc"><ellipse cx="899.9" cy="231.8" rx="6.2" ry="8.9"/></clipPath>
<circle cx="899.9" cy="217.8" r="3.6" fill="#8d8d8d" stroke="#d9d9d9" stroke-width="1.3"/>
<rect x="897.6" y="217" width="4.6" height="1.5" rx="0.7" fill="#1a1a1a"/>
<ellipse cx="899.9" cy="231.8" rx="8.5" ry="11.3" fill="#000" stroke="#d9d9d9" stroke-width="1.5"/>
<ellipse cx="899.9" cy="231.8" rx="6.2" ry="8.9" fill="#000" stroke="#cfcfcf" stroke-width="0.7"/>
<rect x="892" y="224.6" width="16" height="6.9" fill="#9d9d9d" clip-path="url(#cesc)"/>
<path d="M898.7 224.6 l2 0 l0.8 2.2 l-0.6 2.6 l-2.6 0 l-0.5 -2.4 z" fill="#111"/>
<line x1="899.9" y1="228.6" x2="899.9" y2="240.3" stroke="#e8e8e8" stroke-width="0.9"/>
<path d="M894.2 236.6 q2.8 -2.6 5.7 -0.4 q2.9 -2.2 5.7 0.4" fill="none" stroke="#e8e8e8" stroke-width="1.1"/>
<path d="M897.6 238.8 q2.3 1.6 4.6 0" fill="none" stroke="#cfcfcf" stroke-width="0.8"/>
<path d="M898.3 244.6 l1.6 -1.6 l1.6 1.6" fill="none" stroke="#d9d9d9" stroke-width="1"/>
</g>
</svg>
</body></html>
